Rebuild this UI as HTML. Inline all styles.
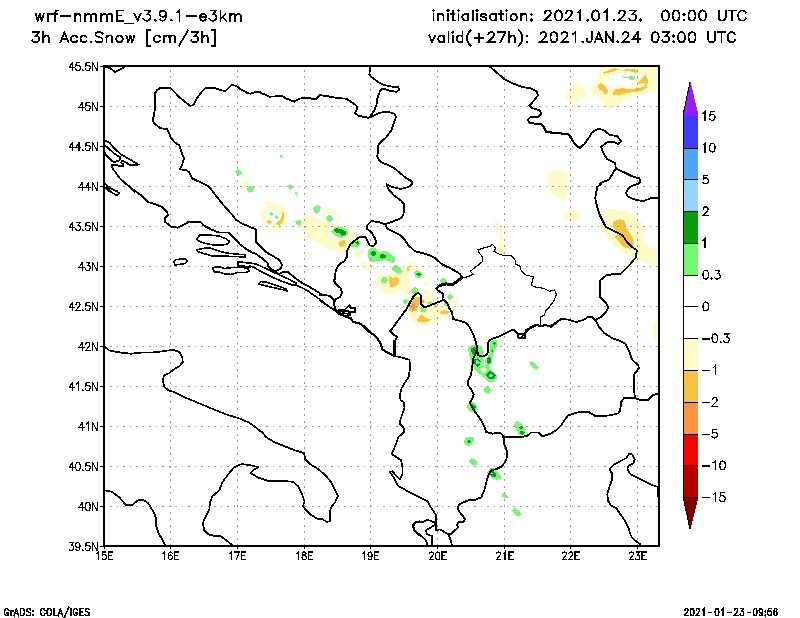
<!DOCTYPE html><html><head><meta charset="utf-8"><title>wrf-nmmE snow</title>
<style>html,body{margin:0;padding:0;background:#fff}svg{display:block}text{font-family:"Liberation Sans",sans-serif;fill:#000}</style></head><body>
<svg width="800" height="618" viewBox="0 0 800 618">
<rect width="800" height="618" fill="#fff"/>
<defs><clipPath id="cp"><rect x="104" y="66" width="555" height="480"/></clipPath></defs>
<g clip-path="url(#cp)" shape-rendering="crispEdges">
<polygon fill="#FFFAC8" points="566.2,92.5 568.8,86.9 576.2,83.1 582.5,86.2 586.2,90 585,96.2 580,100.6 573.8,103.1 567.5,101.2 566,97.5"/>
<polygon fill="#FFFAC8" points="600,66.9 658.8,66.9 658.8,88.1 652.5,91.2 645,93.1 635,95 626.2,98.8 618.8,105 612.5,108.1 606.2,108.8 603.1,102.5 595,95 589.4,90 593.8,85 597.5,78.8 598.1,72.5"/>
<polygon fill="#FFFFFF" points="605,79.4 610,76.2 618.8,73.1 627.5,71.9 637.5,72.5 641.2,74.4 640,78.8 635,81.2 631.2,85 627.5,87.5 622.5,85 615,86.9 610,88.1 606.2,85 603.8,82.5"/>
<polygon fill="#F5C341" points="603.1,72.5 607.5,70.6 615,68.1 618.8,69.4 615,71.2 608.8,72.5 604.4,73.8"/>
<polygon fill="#F5C341" points="621.9,70 627.5,69 635,69.4 638.1,71.2 636.2,73.1 630,71.2 623.8,71"/>
<polygon fill="#F5C341" points="638.1,81.9 642.5,78.1 645.6,75 647.5,78.8 647.5,84.4 646.2,88.8 640,91.2 632.5,91.9 625,93.8 617.5,95 612.5,94.4 615,89.4 622.5,88.1 630,89.4 637.5,88.1 643.8,86.9 645.6,83.1 642.5,83.1 638.8,84.4"/>
<polygon fill="#F5C341" points="598.1,85.6 600.6,83.1 603.8,85 608.1,90.6 606.9,94.4 604.4,93.8 602.5,90.6 598.8,89.4"/>
<polygon fill="#78F573" points="621.2,75 622.5,76.9 627.5,76.9 631.2,75.6 635,77.5 633.1,80.6 630.6,80 628.1,78.1 623.8,77.5"/>
<polygon fill="#FFFAC8" points="546.8,175 550.5,170.5 559.5,169.8 567,172 568.2,179.5 567.8,188.5 567,196 562.5,199.8 556.5,196.8 552,192.2 548.2,185.5 546.8,179.5"/>
<polygon fill="#FFFAC8" points="563.2,216.2 567,211.8 572.2,208.8 578.2,211.8 582.8,215.5 581.2,219.2 576,221.5 570,221.5 565.5,219.2"/>
<polygon fill="#FFFAC8" points="599.1,224.1 603.6,213 607.6,208.5 615.1,209 627.2,210.5 636.2,215 640.2,220.1 643.2,226.1 642.7,233.1 644.2,240.1 648.2,246.1 654.2,249.2 658.8,250.2 658.8,264.7 650.2,264.2 642.2,261.2 637.2,258.2 630.2,255.7 623.1,252.2 617.1,249.7 613.1,244.1 608.1,238.1 603.1,231.1 600.1,227.1"/>
<polygon fill="#F5C341" points="613.6,221.6 620.1,219.1 625.1,221.1 626.1,227.1 629.2,232.1 632.2,237.1 633.7,242.1 633.2,248.2 629.2,248.7 624.1,247.2 620.1,243.1 617.1,240.1 614.6,237.6 615.6,235.6 620.1,235.1 617.1,232.1 614.6,229.1 613.1,226.1"/>
<polygon fill="#FFFAC8" points="652.8,324.1 658.4,321 658.4,341.1 654.8,340.1 652.4,332.1"/>
<polygon fill="#FFFAC8" points="494.3,220.1 497.3,221.1 500.3,227.1 502.3,234.2 504.3,242.2 506.3,248.2 505.3,253.2 501.3,254.2 496.3,250.2 498.3,244.2 500.3,240.2 498.3,234.2 495.9,227.1"/>
<polygon fill="#FFFAC8" points="484.3,232.2 488.3,233.2 486.3,234.6"/>
<polygon fill="#FFFAC8" points="241.9,183.8 247.5,179 250,180.6 246.2,186.2 243.8,187.5"/>
<polygon fill="#FFFAC8" points="241.2,175 245,174.4 245.6,176.2 242.5,176.9"/>
<polygon fill="#FFFAC8" points="233.1,183.1 235,181.9 235,185"/>
<polygon fill="#FFFAC8" points="253.8,194.4 255.6,193.8 255.6,195.6"/>
<polygon fill="#FFFAC8" points="296.2,185.6 298.1,185 298.8,187.5 296.9,187.5"/>
<polygon fill="#FFFAC8" points="300,196.9 301.2,196.9 301.2,198.8 300,198.8"/>
<polygon fill="#78F573" points="279.4,155.6 281.9,155 283.1,156.9 281.2,157.8"/>
<polygon fill="#78F573" points="235,171.9 238.1,169 241.9,171.9 241.2,175 238.1,175.6"/>
<polygon fill="#78F573" points="246.2,190 250,185.6 253.8,187.5 252.5,191.9 248.8,192.8"/>
<polygon fill="#78F573" points="287.2,186.2 290.6,184 293.5,186.5 290.6,189.8"/>
<polygon fill="#78F573" points="295,192.2 296.9,192.2 296.9,194.8 295.6,194.4"/>
<polygon fill="#FFFAC8" points="259.4,214.4 263.8,212.5 266.2,206.2 262.5,202.5 271.2,201.9 278.8,204.4 285,208.8 288.1,214.4 287.5,221.2 283.8,227.5 278.8,229.4 273.8,226.2 266.2,224.4 261.9,220"/>
<polygon fill="#FFFFFF" points="265,214.4 268.8,210.6 275,210 280,212.5 280.6,217.5 276.9,221.9 271.2,221.9 266.9,219.4"/>
<polygon fill="#78F573" points="268.8,213.8 271.2,211.9 273.8,214.4 271.2,216"/>
<polygon fill="#78F573" points="274.4,216.9 276.9,215 279,217.5 276.5,218.8"/>
<polygon fill="#F5C341" points="266.9,221.2 269.4,219.8 272.2,221.9 270,223.8 267.5,222.8"/>
<polygon fill="#F5C341" points="276.2,223.1 280,220 281.9,215.6 281.5,211.2 283.5,213.1 284.4,218.1 282.5,222.5 279.4,224.8 276.5,224.4"/>
<polygon fill="#FFFAC8" points="302.5,216.9 310,215 316.2,218.1 322.5,220 323.8,212.5 327.5,208.1 332.5,210 337.5,215 341.9,214.4 340,218.8 337.5,223.1 342.5,226.2 347.5,226.9 350,230 353.1,227.5 356.2,232.5 355,240 353.8,247.5 350,252.5 343.8,253.8 337.5,251.2 330,249.4 322.5,245 315,241.2 308.8,238.8 305,232.5 301.2,227.5"/>
<polygon fill="#FFFFFF" points="324.4,216.9 326.9,213.1 331.2,212.5 336.2,216.2 337.5,220 335,222.8 330,223.8 325.6,221.2"/>
<polygon fill="#FFFFFF" points="328.8,232.5 332.5,227.5 337.5,225.6 345,227.5 348.8,231.2 348.8,236.2 343.8,239.4 337.5,239.4 332.5,237.5 329.4,235.6"/>
<polygon fill="#FFFFFF" points="316.9,235 318.5,233.8 320,235.2 318.5,236.9"/>
<polygon fill="#78F573" points="326,218.1 328.1,215 331.9,216.2 333.1,219.4 330.6,221.9 327.2,221.2"/>
<polygon fill="#78F573" points="331.2,231.2 334.4,227.5 341.2,226.9 346.9,229.4 348.1,233.1 345,236.9 340,237.8 335,235.6"/>
<polygon fill="#78F573" points="295,221.2 300.6,220 301.2,225 296.9,224.8"/>
<polygon fill="#78F573" points="313.1,207.5 317.5,205 321,206.9 319.4,211.2 316.2,214.4 313.8,211.2"/>
<polygon fill="#78F573" points="295,191.9 296.9,191.9 296.9,195 295.6,194.4"/>
<polygon fill="#0F9B0F" points="333.8,230 336.2,228.1 340,228.8 343.1,229.8 346.2,231.9 345.6,235 342.5,235.6 339.4,233.1 336.2,232.5"/>
<polygon fill="#F5C341" points="338.1,243.1 342.5,240.6 345.2,240 343.8,245 341.9,247.8 339.4,245.6"/>
<polygon fill="#FFFAC8" points="355,253.1 358.8,248.8 363.1,251.9 361.2,256.2 357.5,258.8 355,257.5"/>
<polygon fill="#FFFAC8" points="360.6,267.5 363.8,260 366.9,262.5 371.9,265 375,267.5 372.5,270 365,269.4"/>
<polygon fill="#FFFAC8" points="377.5,248.1 380,246.2 382.2,248.1 380.6,250"/>
<polygon fill="#FFFAC8" points="378.8,270 381.2,268.1 384.4,270 382.5,272.8 379.8,272.2"/>
<polygon fill="#FFFAC8" points="374.4,278.8 380,275 388.8,274.4 398.8,275 403.8,271.2 406.2,265 411.2,261.9 417.5,263.8 421.2,268.1 426.2,275 430,281.2 427.5,286.2 422.5,285 420,290 426.2,292.5 432.5,295 430,300 422.5,300 420,295 410,295 406.2,288.8 400,290 393.8,293.8 387.5,293.8 381.2,291.2 376.2,286.2"/>
<polygon fill="#FFFFFF" points="407.5,275 412.5,272.5 416.2,280 415,286.2 410,285 408.1,280"/>
<polygon fill="#78F573" points="349.4,243.8 353.1,240 358.1,239.4 360.6,242.5 358.8,246.2 353.8,247.5 350.6,246.2"/>
<polygon fill="#78F573" points="368.1,250 371.9,247.5 376.2,248.1 378.1,251.9 381.2,251.9 385,250.6 390,253.1 394.4,257.5 395.6,261.9 393.1,263.1 388.8,261.2 385,259.4 381.2,261.2 377.5,260.6 373.8,261.9 370,262.5 368.5,257.5"/>
<polygon fill="#78F573" points="391.2,268.8 394.4,265 397.5,265.6 400.6,268.8 403.1,271.2 401.2,273.8 397.5,273.1 393.8,271"/>
<polygon fill="#78F573" points="413.8,273.1 416.2,270.2 420,271 423.1,273.8 421.9,277.2 418.1,278.8 415,276.9"/>
<polygon fill="#78F573" points="380.2,280 383.1,277.2 386.9,277.5 388.1,280.6 385.6,283.5 382.2,282.8"/>
<polygon fill="#78F573" points="410,291.2 413.8,287.5 417.5,288.1 418.1,291.2 415,293.8 411.9,293.8"/>
<polygon fill="#78F573" points="403.1,300.6 406.2,299.4 408.1,302 403.1,302"/>
<polygon fill="#0F9B0F" points="355,242.5 357.5,241.2 359.4,243.1 356.9,245"/>
<polygon fill="#0F9B0F" points="370.6,253.1 373.1,250.6 376.2,251.9 376.2,255 373.1,256.2 371,255"/>
<polygon fill="#0F9B0F" points="379.8,255.6 382.5,253.8 385.6,255 385.6,257.5 382.5,258.8 380.2,257.8"/>
<polygon fill="#0F9B0F" points="416.5,273.8 418.8,272.5 421,274.4 419,276.2"/>
<polygon fill="#F5C341" points="388.8,276.2 391.9,276.2 392.5,280 395,280.6 396.9,277.5 400,280 398.8,283.1 395,285 391.2,287.5 389.4,283.8"/>
<polygon fill="#F5C341" points="340,241.2 343.1,240 345,242.5 343.8,246.2 340,247.5"/>
<polygon fill="#F5C341" points="407.5,267.5 408.8,267.2 408.8,270 407.9,270"/>
<polygon fill="#FFFAC8" points="402.5,273.8 405,266.2 412.5,261.9 418.8,265 421.2,270 426.2,275 428.8,281.2 427.5,286.9 431.2,292.5 433.1,296.2 430,298.8 436.2,301.2 442.5,305 448.8,308.8 451.2,312.5 448.8,316.2 442.5,316.2 438.8,320 432.5,323.8 425,325 416.2,324.4 411.2,318.8 406.2,313.8 402.5,306.2 406.2,301.2 408.8,295 402.5,288.8 395,293.1 390,293.8 390,273.8 397.5,272.5"/>
<polygon fill="#FFFAC8" points="452.5,301.2 457.5,296.9 460,298.8 458.1,303.1 453.8,307.5 451.2,305"/>
<polygon fill="#FFFFFF" points="408.8,275 413.1,271.2 413.8,278.8 418.8,281.2 422.5,280 423.8,285 420,286.9 415,285 410,283.8"/>
<polygon fill="#FFFFFF" points="423.1,291.2 427.5,290 430,293.8 427.5,297.5 423.8,297.5 421.9,294.4"/>
<polygon fill="#FFFFFF" points="410.1,271.1 414.1,270.1 422.1,269.1 428.2,273.1 432.2,280.1 434.2,288.1 432.2,290.1 424.1,289.6 420.1,291.1 418.1,288.1 414.1,287.1 410.1,290.1 409.1,283.1 410.1,276.1"/>
<polygon fill="#FFFAC8" points="421.1,275.6 425.1,274.6 427.2,276.6 424.1,279.1 421.1,278.6"/>
<polygon fill="#FFFAC8" points="423.1,283.1 427.2,281.1 429.2,283.1 427.2,286.6 424.1,286.1"/>
<polygon fill="#FFFAC8" points="419.6,292.1 423.1,289.6 429.2,290.1 432.7,294.1 431.2,298.2 427.2,299.2 422.1,297.2"/>
<polygon fill="#FFFFFF" points="423.1,293.1 427.2,292.1 429.7,294.6 427.2,296.7 424.1,295.6"/>
<polygon fill="#F5C341" points="390,276.2 393.8,278.8 396.2,276.9 399.4,278.8 399.4,283.1 395,286.2 390,287.5"/>
<polygon fill="#F5C341" points="408.1,310 410.6,304.4 413.1,299.4 415.6,296.9 420,297.5 420,302.5 418.1,306.9 416.2,310.6 411.9,311.9"/>
<polygon fill="#F5C341" points="416.9,320 419.4,316.2 421.9,314.4 425,317.5 431.2,319.4 427.5,321.9 422.5,322.5 418.1,321.9"/>
<polygon fill="#F5C341" points="440,311.9 443.8,310 448.8,311 450,313.1 445,314 441.2,313.8"/>
<polygon fill="#F5C341" points="406.9,267.5 408.8,266.9 408.8,270.6 407.5,270.6"/>
<polygon fill="#FA9641" points="410.6,308.8 411.9,304.4 415,303.1 415.6,306.9 413.8,310"/>
<polygon fill="#FA9641" points="421.2,300.6 423.8,299.4 425,301.9 422.8,303.5"/>
<polygon fill="#78F573" points="391.2,268.1 395,265.2 400,267.5 402.5,271.2 399.4,273.5 395,271.9"/>
<polygon fill="#78F573" points="413.8,272.5 416.9,270.2 421.2,271.9 422.8,275 420,278.5 415.6,276.9"/>
<polygon fill="#78F573" points="439.4,280.6 443.1,278.1 446.9,280 446.2,282.8 441.2,283.1"/>
<polygon fill="#78F573" points="410,291.2 414.4,286.9 418.1,288.8 416.9,292.5 413.1,293.8"/>
<polygon fill="#78F573" points="403.1,300.6 406.2,299 408.1,301.9 405.6,304 403.1,303.1"/>
<polygon fill="#78F573" points="446.9,296.2 450,294 453.1,296.2 452.2,299.4 448.8,299.8"/>
<polygon fill="#78F573" points="420,307.5 423.8,308.1 426.9,310 425,312.5 421.2,311.9"/>
<polygon fill="#78F573" points="426.9,302.5 431.2,301.2 433.1,303.8 428.8,304.8"/>
<polygon fill="#78F573" points="443.8,302.5 447.5,301.2 450,304.4 448.1,307.5 445,306.2"/>
<polygon fill="#78F573" points="432.5,306.2 435.6,304.4 436.9,306.2 433.8,307.8"/>
<polygon fill="#78F573" points="390,260 394.4,260 395.6,261.9 392.5,263.1 390,261.9"/>
<polygon fill="#0F9B0F" points="416,274.4 418.8,272.5 421,274.4 419,276.5"/>
<polygon fill="#78F573" points="468.1,348.8 471.9,345 476.9,344.4 481.2,346.9 483.8,351.9 482.5,356.2 484.4,361.2 481.9,365 479.4,368.8 483.8,373.1 487.5,370 490,368.8 493.8,371.9 497.5,375.6 496.9,378.8 493.1,381.9 488.8,382.2 485,378.8 481.9,375 478.1,373.1 474.4,368.8 471.2,363.8 470,357.5 468.8,353.1"/>
<polygon fill="#78F573" points="485,361.2 487.5,356.9 489.4,353.1 490,348.8 490.6,341.2 493.8,339.4 497.2,340.6 497.2,346.2 495,350 493.1,354.4 492.5,358.8 491.9,363.1 488.8,365 486.2,364.4"/>
<polygon fill="#78F573" points="529.4,362.5 531.2,361.2 535,363.1 538.1,366.2 539,368.1 536.2,369.4 532.5,367.5 530,365"/>
<polygon fill="#78F573" points="483.5,388.8 486.2,386.2 489.4,387.5 491,390.6 489.4,393.1 485.6,393.5 483.8,391.2"/>
<polygon fill="#78F573" points="481.9,365 486.2,364.4 488.8,365 490.2,368.8 487.5,370 483.8,373.1 479.4,368.8"/>
<polygon fill="#FFFFFF" points="480,369.4 483.8,366.2 487.5,369.4 483.8,373.1"/>
<polygon fill="#0F9B0F" points="471.2,348.1 475,346.9 476.9,349.4 475,354.4 473.1,355 471.2,351.9"/>
<polygon fill="#0F9B0F" points="474.4,359.4 478.1,358.1 480.6,361.2 480,365 476.9,366.9 474.4,364.4"/>
<polygon fill="#0F9B0F" points="485.6,375 489.4,371.2 493.1,372.2 496,375.6 493.1,379.4 489.4,378.8"/>
<polygon fill="#0F9B0F" points="486.9,358.8 488.8,356.9 491,358.1 491,362.5 488.5,363.8 486.9,361.9"/>
<polygon fill="#0F9B0F" points="493.1,343.1 494.8,341.9 496,343.5 494.4,345"/>
<polygon fill="#0F9B0F" points="491.2,350.6 492.5,349.8 493.1,351.2 491.9,351.9"/>
<polygon fill="#96D2FA" points="475.6,360.6 478.1,360 479.8,362.2 478.1,364.4 476,363.5"/>
<polygon fill="#96D2FA" points="489,375 491.2,374 493.1,375.6 491.5,377.2 489.4,376.9"/>
<polygon fill="#FFFAC8" points="491.9,365 493.5,364.8 493.8,366.2 492.2,366.5"/>
<polygon fill="#78F573" points="466.9,405.6 468.8,402.5 471.9,401.2 476.2,403.8 477.8,407.5 475.6,411.2 471.2,412.5 468.1,410"/>
<polygon fill="#78F573" points="514,424.4 516.2,421.2 519.4,421.9 522.5,425 524.8,428.8 525.6,433.1 523.1,435.6 518.8,435 517.5,431.2 515,427.5"/>
<polygon fill="#78F573" points="463.8,440.6 466.2,437.5 473.8,437.2 473.5,440.6 471.2,444.4 467.5,446 465,444.4"/>
<polygon fill="#78F573" points="469,460 471.9,458.1 475.6,460 477.8,462.5 476.9,465.2 473.1,465.2 470,463.1"/>
<polygon fill="#0F9B0F" points="470,405 472.5,404.4 476.2,406.9 475,409.4 471.9,408.1"/>
<polygon fill="#0F9B0F" points="518.8,426.9 521.2,426 523.1,428.1 520.6,429.4"/>
<polygon fill="#0F9B0F" points="519.4,431.9 522.2,430.6 524.8,432.5 522.5,434.8 519.8,433.8"/>
<polygon fill="#0F9B0F" points="466.9,441.2 469.4,440 471,441.5 469,443.5"/>
<polygon fill="#78F573" points="487.5,472.5 490,468.1 493.1,467.5 496.9,471.2 501.2,475.6 501.5,478.1 496.9,480 492.5,478.1 489.4,475.6"/>
<polygon fill="#78F573" points="501.2,495 503.8,493.1 506.9,495 508.8,497.5 506.2,498.5 503.1,497.2"/>
<polygon fill="#78F573" points="512.1,510 514.4,507.5 518.1,510 521,513.1 520.2,516 516.9,516.2 513.8,513.1"/>
<polygon fill="#0F9B0F" points="490.2,472.5 493.1,470.6 496.2,473.1 496.5,476.2 493.1,477.5 490.6,475.6"/>
<polygon fill="#96D2FA" points="491.2,473.1 492.8,473.1 492.8,474.4 491.2,474.4"/>
</g>
<g stroke="#9a9a9a" stroke-width="1" stroke-dasharray="1.7 4.8" fill="none" shape-rendering="crispEdges">
<line x1="103.5" y1="106.5" x2="658" y2="106.5"/>
<line x1="103.5" y1="146.5" x2="658" y2="146.5"/>
<line x1="103.5" y1="186.5" x2="658" y2="186.5"/>
<line x1="103.5" y1="226.5" x2="658" y2="226.5"/>
<line x1="103.5" y1="266.5" x2="658" y2="266.5"/>
<line x1="103.5" y1="306.5" x2="658" y2="306.5"/>
<line x1="103.5" y1="346.5" x2="658" y2="346.5"/>
<line x1="103.5" y1="386.5" x2="658" y2="386.5"/>
<line x1="103.5" y1="426.5" x2="658" y2="426.5"/>
<line x1="103.5" y1="466.5" x2="658" y2="466.5"/>
<line x1="103.5" y1="506.5" x2="658" y2="506.5"/>
<line x1="170.5" y1="546" x2="170.5" y2="66"/>
<line x1="237.5" y1="546" x2="237.5" y2="66"/>
<line x1="304.5" y1="546" x2="304.5" y2="66"/>
<line x1="370.5" y1="546" x2="370.5" y2="66"/>
<line x1="437.5" y1="546" x2="437.5" y2="66"/>
<line x1="504.5" y1="546" x2="504.5" y2="66"/>
<line x1="570.5" y1="546" x2="570.5" y2="66"/>
<line x1="637.5" y1="546" x2="637.5" y2="66"/>
</g>
<g clip-path="url(#cp)" fill="none" stroke="#000" stroke-linejoin="round" stroke-linecap="round" shape-rendering="crispEdges">
<polyline stroke-width="1.85" points="259.9,92.1 256.5,91.7 250.5,93.7 247.5,93.1 240.5,89.1 236.4,86.1 231.8,84.7 225.4,91.1 222.4,90.5 216.4,88.5 206.3,87.5 202.3,91.1 196.3,99.1 193.3,105.1 190.3,105.7 185.3,102.1 180.3,98.1 171.2,88.7 169.2,87.7 160.2,88.1 157.2,90.1 155.2,93.1 155.2,106.1 154.2,114.2 152.8,120.2 154.2,123.2 160.2,128.2 167.2,129.2 169.2,133.2 171.2,138.3 175.2,142.7 179.3,145.3 181.3,151.3 183.9,158.3 182.3,164.3 179.9,169.4 186.3,170 189.3,172.4 192.3,178.4 198.3,181.4 204.3,184"/>
<polyline stroke-width="1.85" points="104.4,67 110,68 115,72 120.1,69.6 123.7,67.6"/>
<polyline stroke-width="1.75" points="104,140.5 109.5,142.5 114,148.1 121.1,154.6 130.1,159.6 138.6,164.6 130.1,165.1 123.6,161.1 121.6,160.6 121.3,163.1 123.6,164.6 123.1,166.3 119.6,166.1 115,164.6 112,165.1 112,167.6 116.1,173.1 120.1,178.7 126.1,183.7 134.6,191.7"/>
<polyline stroke-width="1.75" points="104,145 107,147.1 113,152.6 120.6,157.6 119.6,160.1 115,162.1 112,161.1 106,155.1 104.5,152.1 104,149.1"/>
<polyline stroke-width="1.75" points="104,182.2 107.5,186.2 112,189.2 117.1,191.2"/>
<polyline stroke-width="1.75" points="106,188.2 110,191.7"/>
<polyline stroke-width="1.85" points="260,92.7 264,94.1 269,96.7 282.1,96.1 286.1,98.5 294.1,101.7 300.1,98.5 308.2,97.7 315.2,99.5 320.2,95.1 329.2,96.5 337.2,98.1 346.3,98.7 354.3,104.1 357.3,106.6 356.3,111.2 354.7,112.6 358.3,115.8 368.3,117.8 372.4,116.2 380.4,112.6 388.4,111.8 394.4,113.8 396,117.2 393.4,124.2 391.4,130.2 386.4,137.2 380.4,142.3 378.4,145.3 378.4,151.3 377,156.3 380.4,161.9 388.4,165.3 394.4,168.3 400.5,173.4 406.5,178.4 412.1,181.4 412.5,184"/>
<polyline stroke-width="1.85" points="370.4,116.2 374.4,110.2 377.4,102.1 377.4,98.1 380.4,90.1 383.4,88.5 390.4,91.1 396.4,91.7 399,90.1 398.4,87.1 392.4,86.7 384.4,85.1 378.4,82.1 371.4,77.1 369.4,74.4 370,67"/>
<polyline stroke-width="1.85" points="490.2,67 497.2,73 504.3,79.1 512.3,83.1 522.3,87.1 530.4,88.1 536.4,91.1 538,95.1 534.4,100.1 529.4,105.7 532.4,108.2 539.4,110.2 541.4,113.8 538.4,116.6 530.4,117.2 527.9,119.8 529.4,122.6 535.4,123.8 541.4,124.2 544.4,128.2 546.4,132.2 556.4,132.6 564.5,133.8 569.5,134.6 572.5,140.3 575.5,145.3 579.9,147.9"/>
<polyline stroke-width="1.85" points="540,123.8 544,127.2 546,132.2 556.1,133.2 568.1,134.2 571.1,138.3 575.1,144.3 580.1,147.9 584.1,144.3 589.2,137.2 592.2,132.2 598.2,128.8 603.2,129.8 609.2,134.6 617.2,136.2 621.3,141.3 618.3,143.9 613.2,141.9 607.2,142.3 601.2,146.7 603.2,152.7 607.2,159.3 615.2,163.3 615.8,168.3"/>
<polyline stroke-width="1.85" points="615.8,168.3 624.3,172.4 632.3,176.4 639.3,178.4 640.3,181.4 638.3,184"/>
<polyline stroke-width="1.85" points="615.8,168.3 612.2,174.4 609.2,179.4 600.2,183.4"/>
<polyline stroke-width="1.85" points="126.1,184 135.1,191 142.1,196 148.2,202.1 155.2,204.1 162.2,207.1 167.2,212.1 167.8,215.1 164.6,218.1 165.2,222.1 171.2,226.5 177.2,227.7 183.3,225.1 188.3,222.1 200.3,221.7"/>
<polyline stroke-width="1.85" points="204.3,184 209.4,187 215.4,195 224.4,206.1 233.4,216.1 236,219.9"/>
<polyline stroke-width="1.6" points="107,186 112,189 119.1,193 117.1,195.6 111,192 107.6,188 107,186"/>
<polyline stroke-width="1.85" points="200.6,221.9 203.8,225.6 211.2,229.4 218.8,232.5 228.1,232.5 233.8,237.5 240,244.4 247.5,250 250,251.2"/>
<polyline stroke-width="1.85" points="236.2,220 242.5,223.8 250,226.9 255.6,229.4 256.2,236.2"/>
<polyline stroke-width="1.6" points="196.9,239.4 199.4,235.2 207.5,234.8 218.8,236 226.2,238.8 229.4,241.2 228.1,243.8 222.5,245 212.5,244.8 203.8,243.1 198.8,241 196.9,239.4"/>
<polyline stroke-width="1.6" points="196.5,250 202.5,248.5 209.4,247.8 216.2,250 225,252.8 235,254 245.6,254.8 245,257.2 236.2,256.5 225,256.2 212.5,256 203.8,253.5 198.8,251.9 196.5,250"/>
<polyline stroke-width="1.6" points="173.8,261.9 175.6,259.8 181.9,258.8 186.2,259.4 187.5,261 185,263.5 179.4,264.4 175,265 173.8,261.9"/>
<polyline stroke-width="1.6" points="212.5,267.5 220,266.9 225,268.5 232.5,267.5 240,267.2 247.5,268.1 249.4,271.2 245,272.5 237.5,272.5 231.2,274.4 225,274 220,272.2 214.4,271.9 212.5,267.5"/>
<polyline stroke-width="1.6" points="250,263.1 241.9,262.2 238.1,261.9 237.5,265 242.5,266 250,266.9"/>
<polyline stroke-width="1.85" points="386.4,184 388.4,189 393.4,195 400.5,200.1 404.1,204.1 403.5,214.1 401.5,218.1 392.4,221.7 385.4,224.1 378.4,222.1 371.4,221.1 367.3,225.1 367.3,229.1 371.4,232.2 374.4,237.2 376.4,242.2 373.4,246.2 369.4,245.2 367.3,240.2 365.3,237.2 360.3,236.6 355.3,240.2 350.3,244.2 347.3,250.2 346.7,257.2 344.3,261.2 339.3,264.3 336.2,269.3 334.6,276.3 334.6,279.9"/>
<polyline stroke-width="1.85" points="386.4,184 392.4,187 400.5,189 408.5,187 412.5,184"/>
<polyline stroke-width="1.85" points="256.2,236.6 256.2,242.2 261.2,247.2 266.2,252.2 273.8,256.6 280,260.4 281.9,264.8 281.2,268.2 276.9,270.4 275,271.6"/>
<polyline stroke-width="1.85" points="250,251.6 256.2,254.1 262.5,258.5 267.5,262.9 268.1,266 271.2,269.1 275,271.6 279.4,274.1 282.5,272.2 287.5,271.6 291.2,274.8 297.5,279.8 303.8,284.1 310,287.2 316.2,291 322.5,294.8 330,295.8 333.8,299.8 334.8,301"/>
<polyline stroke-width="1.6" points="250,262.9 256.2,264.1 262.5,267 268.8,269.8 275,272.9 281.2,275.8 287.5,278.5 296.2,283.2 296.5,285.4"/>
<polyline stroke-width="1.6" points="250,266 255,267.9 260,271 266.2,274.1 272.5,277.2 278.8,280 286.2,282.9 292.5,285 296.5,285.4"/>
<polyline stroke-width="1.6" points="296.5,285.4 302.5,287.9 308.8,291.6 315,296 321.2,300.4 327.5,305.4 332.5,309.1 337.5,311.6"/>
<polyline stroke-width="1.6" points="258.5,283.8 260.6,281.6 266.2,282 272.5,284.1 280,286.6 286.2,289.1 287.2,291 283.8,289.8 277.5,288.5 271.2,287.2 263.8,285.4 258.5,283.8"/>
<polyline stroke-width="1.85" points="333.8,280 335.6,283.8 340.6,288.1 342.2,292.5 340,296.9 334.4,300"/>
<polyline stroke-width="1.85" points="320,295 329.4,295.6 334.4,300 334,305 335.6,309.4 338.8,312.5"/>
<polyline stroke-width="1.85" points="413.1,296.9 410,303.1 406.2,309.4 401.2,316.2 396.2,323.1 392.5,328.1 390,331.2 392.5,333.8 396.9,336.9 395,341.2 394,346.2 393.8,351.2 394.4,355"/>
<polyline stroke-width="3" points="394,341.2 394.2,355"/>
<polyline stroke-width="1.75" points="320,300.6 325,303.8 331.2,308.1 336.2,311.2 338.8,313.8"/>
<polyline stroke-width="1.75" points="338.8,310 345,309.4 349.4,305 350.6,308.1 355,308.1 355.6,311.9 350.6,311.9 350,315 345,316.2 341.9,313.8 338.8,312.5 338.8,310"/>
<polyline stroke-width="1.75" points="340,311.2 348.8,311.2 348.8,313.8 342.5,313.1"/>
<polyline stroke-width="1.85" points="435.1,258.2 442.1,264.3 450.2,268.3 457.2,271.9 460,274.1 462,277.9"/>
<polyline stroke-width="1.85" points="443.1,299.4 447.2,303.4 449.2,308"/>
<polyline stroke-width="3" points="462,277.9 456.2,281.9 452.2,284.7 446.1,283.9 440.1,285.3"/>
<polyline stroke-width="1.85" points="440.1,285.3 436.1,288.7 439.1,291.3 443.1,293.4 442.5,299.4"/>
<polyline stroke-width="1.85" points="443.1,300 437.5,302.5 431.2,305 424.4,307.5 421.2,304.4 420.6,298.8 420.6,295 418.1,292.8 415,295 411.9,299.4 408.8,304.4"/>
<polyline stroke-width="1.15" points="462,277.9 468.2,276.7 473.2,274.3 470.2,271.3 475.2,267.3 479.3,264.3 482.7,261.2 481.9,256.2 479.3,253.2 477.9,249.8 484.3,247.8 490.3,246.2 492.3,244.2 495.9,248.2 493.9,251.2 498.3,253.8 504.3,255.8 510.4,255.2 514.8,259.2 516,264.3 520,266.3 521.4,271.3 526.4,275.3 533.4,276.7 531.4,285.3 536.4,287.3 543.5,288.3 549.5,291.3 554.5,289.9 556.5,294.4 554.1,300.4 550.5,305.4 548.5,308"/>
<polyline stroke-width="1.85" points="601.3,184 597.2,187 595.2,198 597.2,207.1 600.3,216.1 604.3,224.1 606.3,227.1 614.3,231.2 622.3,235.2 627.3,242.2 632.4,247.2 636.8,250.2 636,257.2 629.4,265.3 620.3,274.3 612.3,274.3 606.3,275.3 600.3,280.3 599.9,288.3 600.3,297.4 606.3,303.4 608.3,308"/>
<polyline stroke-width="1.85" points="637.4,184 629.4,187 625.9,193 628.3,197 636.4,200.1 643.4,201.1 650.4,198.4 658.4,197.6"/>
<polyline stroke-width="1.75" points="104,346.1 109,350.5 120.1,352.5 131.1,353.7 142.1,352.5 152.2,352.5 164.2,351.1 173.2,349.7 179.3,352.1 182.3,357.2 182.7,362.2 179.3,366.2 174.2,369.2 169.2,373.2 164.2,375.2 162.6,380.2 164.6,387.3 169.2,390.7 174.2,391.9 182.3,396.3 194.3,401.3 206.3,406.3 218.4,411.3 228.4,415.3 238.4,418 248.5,422.4 254.5,426.4 259.9,430.8"/>
<polyline stroke-width="1.75" points="104,490.2 112,491.8 119.1,497.2 126.1,505.2 132.1,505.2 138.1,500.2 143.1,499.8 148.2,503.2 153.2,511.3 156.2,518.3 156.2,526.3 158.6,533.3 162.2,539.3 165.2,545.4"/>
<polyline stroke-width="1.75" points="259.9,478.6 250.5,473.1 254.5,469.1 258.5,467.1 249.5,465.1 241.5,464.1 234.4,467.1 228.4,474.1 222.4,482.2 219.4,490.2 212.4,496.2 210,502.2 209.4,509.2 205.3,517.3 202.7,523.3 204.3,530.3 208.3,534.3 214.4,535.9 220.4,535.9 226.4,540.3 232.4,545.4"/>
<polyline stroke-width="1.75" points="386.4,352.1 393.4,355.8 400.5,357.2 409.5,359.8 410.1,368.2 408.5,377.2 404.5,383.2 401.5,388.3 400.1,394.3 400.5,400.3 404.1,402.3 404.5,408.3 401.5,416.3 399.4,423.4 403.5,427.4 404.5,432"/>
<polyline stroke-width="1.75" points="260,430.8 262,432 266,437 274,442 284.1,446 294.1,450.1 304.1,453.1 305.1,459.1 310.2,464.1 318.2,469.1 325.2,475.1 331.2,482.2 335.2,490.2 337.9,496.2 335.2,502.2 331.2,507.2 329.8,512.3 329.8,521.3 327.2,521.9 322.2,519.3 317.2,518.7 310.2,514.3 305.1,509.2 303.1,506.2 304.5,501.2 302.1,494.2 298.1,486.2 293.1,481.8 286.1,481.2 278.1,481.2 269,481.2 260,478.1"/>
<polyline stroke-width="1.75" points="404.5,432 401.5,434.4 398.4,437 396.4,443 393.4,450.1 391.4,453.7 396.4,457.1 400.9,460.1 402.5,467.1 402.5,474.1 400.1,479.2 396.4,476.1 392.4,471.1 390,472.1 393.4,477.1 398.4,486.2"/>
<polyline stroke-width="1.75" points="419.9,521.3 415.5,522.3 413.5,526.3 414.9,531.3 419.9,534.7"/>
<polyline stroke-width="1.85" points="449.2,308 451.8,312 453.2,319 460.2,321 466.2,323 470.2,328.1 473.2,334.1 475.2,340.1 477.2,347.1 475.8,353.1 473.2,359.2 472.2,366.2 471.2,374.2 468.2,380.2 467.8,385.2 471.2,389.3 473.8,394.3 472.2,399.3 469.8,402.3 472.2,407.3 475.2,412.3 479.3,417.4 483.3,424.4 486.3,432"/>
<polyline stroke-width="1.85" points="477.2,348.1 477.9,355.2 482.3,356.6 486.3,355.2 488.3,351.1 487.9,344.1 489.3,340.1 494.3,338.1 502.3,335.1 509.4,331.1 514,329.7 518.4,334.3 518.4,338.1 524.8,338.1 524.8,334.3 527.4,330.5 530.4,328.1 536.4,325.1 540.5,326.1 544.5,325.1 550.5,326.1 556.5,322 559.9,320"/>
<polyline stroke-width="1.85" points="518.4,334.3 524.8,334.3"/>
<polyline stroke-width="1.15" points="548.5,308 545.5,311 544.5,315 540.5,317 540.5,322 540.5,326.1"/>
<polyline stroke-width="1.85" points="520,338.1 525,334.1 526,330.1 531,327.1 536.1,324.5 541.1,326.1 546.1,325.1 551.1,327.1 556.1,323 561.1,319 568.2,319.6 576.2,322 583.2,320 588.2,317 592.2,317 595.2,320"/>
<polyline stroke-width="1.85" points="608.3,308 605.3,313 601.3,317 595.2,320"/>
<polyline stroke-width="1.85" points="595.2,320 599.3,327.1 604.3,333.1 612.3,338.1 620.3,341.1 625.3,343.7 629.4,352.1 632.4,360.2 638.4,365.2 638.8,368.2 634.4,374.2 634,384.2 634.4,392.3 634.8,398.3"/>
<polyline stroke-width="1.85" points="634.8,398.3 640.4,399.9 648.4,399.9 652.4,395.3 658.4,393.3"/>
<polyline stroke-width="1.85" points="634.8,398.3 624.3,397.9 620.9,402.3 620.3,410.3 618.3,413.3 610.3,415.3 602.3,415.9 595.2,415.9 589.2,412.3 584.2,411.7 576.2,412.7 568.2,415.3 565.1,419.4 561.1,425.4 556.1,430.4 553.1,432"/>
<polyline stroke-width="1.85" points="486.3,432 492.3,433.6 500.3,433 503.3,436"/>
<polyline stroke-width="1.85" points="503.3,436 504.3,444 507.3,452.1 506.3,460.1 502.3,466.1 496.3,469.1 491.3,470.1 488.3,475.1 486.3,482.2 484.3,490.2 481.3,497.2 474.2,500.2"/>
<polyline stroke-width="1.85" points="475,500 468.8,500 463.6,502.4 459.7,504.3 457.8,507.5 459.1,511.4 462.3,515.3 464.9,519.2 463.6,521.8 459.1,521.8 457.1,524.4 457.8,527.6 454.5,530.8 451.3,533.7 448.1,534.1 443.5,531.5 439.7,529.5 436.2,530.2"/>
<polyline stroke-width="1.85" points="448.1,534.1 450,538.6 452,545.1"/>
<polyline stroke-width="1.75" points="398.9,486.2 406.7,490.7 415.7,495.2 423.5,499.1 428,501.7 430,506.2 433.8,511.4 436.2,515.3 436.2,530.2"/>
<polyline stroke-width="1.75" points="436.2,522.4 432.5,521.8 428,519.8 424.8,521.1 422.2,522.4 415.7,521.8 413.1,524.4 412.9,527 414.4,530.8 417.7,534.1 422.2,536.7 426.1,540.6 427.4,545.1"/>
<polyline stroke-width="1.75" points="436.2,522.4 433.8,525.7 429.3,528.3 426.1,530.2 426.7,534.1 431.9,536 431.9,545.1"/>
<polyline stroke-width="1.75" points="658.4,487.2 652.4,485.2 644.4,481.2 636.4,477.1 630.4,474.1 627.3,469.1 628.3,466.1 633.4,463.1 634.8,459.1 632.4,454.5 629.4,453.7 626.3,458.1 620.3,461.1 613.3,465.1 609.3,469.1 611.9,473.1 611.9,480.2 609.3,487.2 607.3,494.2 608.3,501.2 611.3,505.8 616.3,508.2 620.3,514.3 625.3,521.3 628.3,527.3 630.4,534.3 632.4,538.3 636.4,541.4 640.4,544.4"/>
<polyline stroke-width="1.75" points="658,487.2 658,496.2"/>
<polyline stroke-width="1.85" points="503.1,436.9 512.5,436.9 522.5,436.9 527.5,435.6 531.2,432.5 538.8,432.5 541.2,435.6 545,435.6 550,434 553.5,432"/>
<polyline stroke-width="1.85" points="385.6,225 387.5,228.8 393.8,231.9 400,235 405,240 408.1,245 415,251.2 422.5,253.1 430,255.6 436.2,258.8 438.1,260.6"/>
<polyline stroke-width="2.2" points="338.8,313.8 345,316.2 350.6,318.1 353.1,321.9 357.5,323.1 361.2,323.8 365,327.5 370,332.5 375,335.6 378.8,340.6 381.2,345 381.9,348.8 386.2,351.9 392.5,355"/>
</g>
<rect x="104" y="66" width="555" height="480" fill="none" stroke="#000" stroke-width="2" shape-rendering="crispEdges"/>
<g stroke="#000" stroke-width="1" shape-rendering="crispEdges">
<line x1="100" y1="66.5" x2="104" y2="66.5"/>
<line x1="100" y1="106.5" x2="104" y2="106.5"/>
<line x1="100" y1="146.5" x2="104" y2="146.5"/>
<line x1="100" y1="186.5" x2="104" y2="186.5"/>
<line x1="100" y1="226.5" x2="104" y2="226.5"/>
<line x1="100" y1="266.5" x2="104" y2="266.5"/>
<line x1="100" y1="306.5" x2="104" y2="306.5"/>
<line x1="100" y1="346.5" x2="104" y2="346.5"/>
<line x1="100" y1="386.5" x2="104" y2="386.5"/>
<line x1="100" y1="426.5" x2="104" y2="426.5"/>
<line x1="100" y1="466.5" x2="104" y2="466.5"/>
<line x1="100" y1="506.5" x2="104" y2="506.5"/>
<line x1="100" y1="546.5" x2="104" y2="546.5"/>
<line x1="104.5" y1="546" x2="104.5" y2="549"/>
<line x1="170.5" y1="546" x2="170.5" y2="549"/>
<line x1="237.5" y1="546" x2="237.5" y2="549"/>
<line x1="304.5" y1="546" x2="304.5" y2="549"/>
<line x1="370.5" y1="546" x2="370.5" y2="549"/>
<line x1="437.5" y1="546" x2="437.5" y2="549"/>
<line x1="504.5" y1="546" x2="504.5" y2="549"/>
<line x1="570.5" y1="546" x2="570.5" y2="549"/>
<line x1="637.5" y1="546" x2="637.5" y2="549"/>
</g>
<path role="img" aria-label="45.5N" d="M72.35,62.40 L69.05,67.87 L74.00,67.87 M72.35,62.40 L72.35,70.60 M79.61,62.40 L76.31,62.40 L75.98,65.91 L76.31,65.52 L77.30,65.13 L78.29,65.13 L79.28,65.52 L79.94,66.30 L80.27,67.48 L80.27,68.26 L79.94,69.43 L79.28,70.21 L78.29,70.60 L77.30,70.60 L76.31,70.21 L75.98,69.82 L75.65,69.04 M82.91,69.82 L82.58,70.21 L82.91,70.60 L83.24,70.21 L82.91,69.82 M89.51,62.40 L86.21,62.40 L85.88,65.91 L86.21,65.52 L87.20,65.13 L88.19,65.13 L89.18,65.52 L89.84,66.30 L90.17,67.48 L90.17,68.26 L89.84,69.43 L89.18,70.21 L88.19,70.60 L87.20,70.60 L86.21,70.21 L85.88,69.82 L85.55,69.04 M92.48,62.40 L92.48,70.60 M92.48,62.40 L97.10,70.60 M97.10,62.40 L97.10,70.60" fill="none" stroke="#000" stroke-width="1.2" stroke-linecap="square" stroke-linejoin="miter" shape-rendering="crispEdges"/>
<path role="img" aria-label="45N" d="M82.25,102.40 L78.95,107.87 L83.90,107.87 M82.25,102.40 L82.25,110.60 M89.51,102.40 L86.21,102.40 L85.88,105.91 L86.21,105.52 L87.20,105.13 L88.19,105.13 L89.18,105.52 L89.84,106.30 L90.17,107.48 L90.17,108.26 L89.84,109.43 L89.18,110.21 L88.19,110.60 L87.20,110.60 L86.21,110.21 L85.88,109.82 L85.55,109.04 M92.48,102.40 L92.48,110.60 M92.48,102.40 L97.10,110.60 M97.10,102.40 L97.10,110.60" fill="none" stroke="#000" stroke-width="1.2" stroke-linecap="square" stroke-linejoin="miter" shape-rendering="crispEdges"/>
<path role="img" aria-label="44.5N" d="M72.35,142.40 L69.05,147.87 L74.00,147.87 M72.35,142.40 L72.35,150.60 M78.95,142.40 L75.65,147.87 L80.60,147.87 M78.95,142.40 L78.95,150.60 M82.91,149.82 L82.58,150.21 L82.91,150.60 L83.24,150.21 L82.91,149.82 M89.51,142.40 L86.21,142.40 L85.88,145.91 L86.21,145.52 L87.20,145.13 L88.19,145.13 L89.18,145.52 L89.84,146.30 L90.17,147.48 L90.17,148.26 L89.84,149.43 L89.18,150.21 L88.19,150.60 L87.20,150.60 L86.21,150.21 L85.88,149.82 L85.55,149.04 M92.48,142.40 L92.48,150.60 M92.48,142.40 L97.10,150.60 M97.10,142.40 L97.10,150.60" fill="none" stroke="#000" stroke-width="1.2" stroke-linecap="square" stroke-linejoin="miter" shape-rendering="crispEdges"/>
<path role="img" aria-label="44N" d="M82.25,182.40 L78.95,187.87 L83.90,187.87 M82.25,182.40 L82.25,190.60 M88.85,182.40 L85.55,187.87 L90.50,187.87 M88.85,182.40 L88.85,190.60 M92.48,182.40 L92.48,190.60 M92.48,182.40 L97.10,190.60 M97.10,182.40 L97.10,190.60" fill="none" stroke="#000" stroke-width="1.2" stroke-linecap="square" stroke-linejoin="miter" shape-rendering="crispEdges"/>
<path role="img" aria-label="43.5N" d="M72.35,222.40 L69.05,227.87 L74.00,227.87 M72.35,222.40 L72.35,230.60 M76.31,222.40 L79.94,222.40 L77.96,225.52 L78.95,225.52 L79.61,225.91 L79.94,226.30 L80.27,227.48 L80.27,228.26 L79.94,229.43 L79.28,230.21 L78.29,230.60 L77.30,230.60 L76.31,230.21 L75.98,229.82 L75.65,229.04 M82.91,229.82 L82.58,230.21 L82.91,230.60 L83.24,230.21 L82.91,229.82 M89.51,222.40 L86.21,222.40 L85.88,225.91 L86.21,225.52 L87.20,225.13 L88.19,225.13 L89.18,225.52 L89.84,226.30 L90.17,227.48 L90.17,228.26 L89.84,229.43 L89.18,230.21 L88.19,230.60 L87.20,230.60 L86.21,230.21 L85.88,229.82 L85.55,229.04 M92.48,222.40 L92.48,230.60 M92.48,222.40 L97.10,230.60 M97.10,222.40 L97.10,230.60" fill="none" stroke="#000" stroke-width="1.2" stroke-linecap="square" stroke-linejoin="miter" shape-rendering="crispEdges"/>
<path role="img" aria-label="43N" d="M82.25,262.40 L78.95,267.87 L83.90,267.87 M82.25,262.40 L82.25,270.60 M86.21,262.40 L89.84,262.40 L87.86,265.52 L88.85,265.52 L89.51,265.91 L89.84,266.30 L90.17,267.48 L90.17,268.26 L89.84,269.43 L89.18,270.21 L88.19,270.60 L87.20,270.60 L86.21,270.21 L85.88,269.82 L85.55,269.04 M92.48,262.40 L92.48,270.60 M92.48,262.40 L97.10,270.60 M97.10,262.40 L97.10,270.60" fill="none" stroke="#000" stroke-width="1.2" stroke-linecap="square" stroke-linejoin="miter" shape-rendering="crispEdges"/>
<path role="img" aria-label="42.5N" d="M72.35,302.40 L69.05,307.87 L74.00,307.87 M72.35,302.40 L72.35,310.60 M75.98,304.35 L75.98,303.96 L76.31,303.18 L76.64,302.79 L77.30,302.40 L78.62,302.40 L79.28,302.79 L79.61,303.18 L79.94,303.96 L79.94,304.74 L79.61,305.52 L78.95,306.70 L75.65,310.60 L80.27,310.60 M82.91,309.82 L82.58,310.21 L82.91,310.60 L83.24,310.21 L82.91,309.82 M89.51,302.40 L86.21,302.40 L85.88,305.91 L86.21,305.52 L87.20,305.13 L88.19,305.13 L89.18,305.52 L89.84,306.30 L90.17,307.48 L90.17,308.26 L89.84,309.43 L89.18,310.21 L88.19,310.60 L87.20,310.60 L86.21,310.21 L85.88,309.82 L85.55,309.04 M92.48,302.40 L92.48,310.60 M92.48,302.40 L97.10,310.60 M97.10,302.40 L97.10,310.60" fill="none" stroke="#000" stroke-width="1.2" stroke-linecap="square" stroke-linejoin="miter" shape-rendering="crispEdges"/>
<path role="img" aria-label="42N" d="M82.25,342.40 L78.95,347.87 L83.90,347.87 M82.25,342.40 L82.25,350.60 M85.88,344.35 L85.88,343.96 L86.21,343.18 L86.54,342.79 L87.20,342.40 L88.52,342.40 L89.18,342.79 L89.51,343.18 L89.84,343.96 L89.84,344.74 L89.51,345.52 L88.85,346.70 L85.55,350.60 L90.17,350.60 M92.48,342.40 L92.48,350.60 M92.48,342.40 L97.10,350.60 M97.10,342.40 L97.10,350.60" fill="none" stroke="#000" stroke-width="1.2" stroke-linecap="square" stroke-linejoin="miter" shape-rendering="crispEdges"/>
<path role="img" aria-label="41.5N" d="M72.35,382.40 L69.05,387.87 L74.00,387.87 M72.35,382.40 L72.35,390.60 M76.64,383.96 L77.30,383.57 L78.29,382.40 L78.29,390.60 M82.91,389.82 L82.58,390.21 L82.91,390.60 L83.24,390.21 L82.91,389.82 M89.51,382.40 L86.21,382.40 L85.88,385.91 L86.21,385.52 L87.20,385.13 L88.19,385.13 L89.18,385.52 L89.84,386.30 L90.17,387.48 L90.17,388.26 L89.84,389.43 L89.18,390.21 L88.19,390.60 L87.20,390.60 L86.21,390.21 L85.88,389.82 L85.55,389.04 M92.48,382.40 L92.48,390.60 M92.48,382.40 L97.10,390.60 M97.10,382.40 L97.10,390.60" fill="none" stroke="#000" stroke-width="1.2" stroke-linecap="square" stroke-linejoin="miter" shape-rendering="crispEdges"/>
<path role="img" aria-label="41N" d="M82.25,422.40 L78.95,427.87 L83.90,427.87 M82.25,422.40 L82.25,430.60 M86.54,423.96 L87.20,423.57 L88.19,422.40 L88.19,430.60 M92.48,422.40 L92.48,430.60 M92.48,422.40 L97.10,430.60 M97.10,422.40 L97.10,430.60" fill="none" stroke="#000" stroke-width="1.2" stroke-linecap="square" stroke-linejoin="miter" shape-rendering="crispEdges"/>
<path role="img" aria-label="40.5N" d="M72.35,462.40 L69.05,467.87 L74.00,467.87 M72.35,462.40 L72.35,470.60 M77.63,462.40 L76.64,462.79 L75.98,463.96 L75.65,465.91 L75.65,467.09 L75.98,469.04 L76.64,470.21 L77.63,470.60 L78.29,470.60 L79.28,470.21 L79.94,469.04 L80.27,467.09 L80.27,465.91 L79.94,463.96 L79.28,462.79 L78.29,462.40 L77.63,462.40 M82.91,469.82 L82.58,470.21 L82.91,470.60 L83.24,470.21 L82.91,469.82 M89.51,462.40 L86.21,462.40 L85.88,465.91 L86.21,465.52 L87.20,465.13 L88.19,465.13 L89.18,465.52 L89.84,466.30 L90.17,467.48 L90.17,468.26 L89.84,469.43 L89.18,470.21 L88.19,470.60 L87.20,470.60 L86.21,470.21 L85.88,469.82 L85.55,469.04 M92.48,462.40 L92.48,470.60 M92.48,462.40 L97.10,470.60 M97.10,462.40 L97.10,470.60" fill="none" stroke="#000" stroke-width="1.2" stroke-linecap="square" stroke-linejoin="miter" shape-rendering="crispEdges"/>
<path role="img" aria-label="40N" d="M82.25,502.40 L78.95,507.87 L83.90,507.87 M82.25,502.40 L82.25,510.60 M87.53,502.40 L86.54,502.79 L85.88,503.96 L85.55,505.91 L85.55,507.09 L85.88,509.04 L86.54,510.21 L87.53,510.60 L88.19,510.60 L89.18,510.21 L89.84,509.04 L90.17,507.09 L90.17,505.91 L89.84,503.96 L89.18,502.79 L88.19,502.40 L87.53,502.40 M92.48,502.40 L92.48,510.60 M92.48,502.40 L97.10,510.60 M97.10,502.40 L97.10,510.60" fill="none" stroke="#000" stroke-width="1.2" stroke-linecap="square" stroke-linejoin="miter" shape-rendering="crispEdges"/>
<path role="img" aria-label="39.5N" d="M69.71,542.40 L73.34,542.40 L71.36,545.52 L72.35,545.52 L73.01,545.91 L73.34,546.30 L73.67,547.48 L73.67,548.26 L73.34,549.43 L72.68,550.21 L71.69,550.60 L70.70,550.60 L69.71,550.21 L69.38,549.82 L69.05,549.04 M79.94,545.13 L79.61,546.30 L78.95,547.09 L77.96,547.48 L77.63,547.48 L76.64,547.09 L75.98,546.30 L75.65,545.13 L75.65,544.74 L75.98,543.57 L76.64,542.79 L77.63,542.40 L77.96,542.40 L78.95,542.79 L79.61,543.57 L79.94,545.13 L79.94,547.09 L79.61,549.04 L78.95,550.21 L77.96,550.60 L77.30,550.60 L76.31,550.21 L75.98,549.43 M82.91,549.82 L82.58,550.21 L82.91,550.60 L83.24,550.21 L82.91,549.82 M89.51,542.40 L86.21,542.40 L85.88,545.91 L86.21,545.52 L87.20,545.13 L88.19,545.13 L89.18,545.52 L89.84,546.30 L90.17,547.48 L90.17,548.26 L89.84,549.43 L89.18,550.21 L88.19,550.60 L87.20,550.60 L86.21,550.21 L85.88,549.82 L85.55,549.04 M92.48,542.40 L92.48,550.60 M92.48,542.40 L97.10,550.60 M97.10,542.40 L97.10,550.60" fill="none" stroke="#000" stroke-width="1.2" stroke-linecap="square" stroke-linejoin="miter" shape-rendering="crispEdges"/>
<path role="img" aria-label="15E" d="M96.80,553.47 L97.42,553.10 L98.34,552.00 L98.34,559.70 M105.78,552.00 L102.69,552.00 L102.38,555.30 L102.69,554.93 L103.62,554.57 L104.55,554.57 L105.48,554.93 L106.09,555.67 L106.41,556.77 L106.41,557.50 L106.09,558.60 L105.48,559.33 L104.55,559.70 L103.62,559.70 L102.69,559.33 L102.38,558.97 L102.06,558.23 M108.58,552.00 L108.58,559.70 M108.58,552.00 L112.61,552.00 M108.58,555.67 L111.06,555.67 M108.58,559.70 L112.61,559.70" fill="none" stroke="#000" stroke-width="1.2" stroke-linecap="square" stroke-linejoin="miter" shape-rendering="crispEdges"/>
<path role="img" aria-label="16E" d="M162.79,553.47 L163.41,553.10 L164.34,552.00 L164.34,559.70 M172.09,553.10 L171.78,552.37 L170.85,552.00 L170.23,552.00 L169.30,552.37 L168.69,553.47 L168.38,555.30 L168.38,557.13 L168.69,558.60 L169.30,559.33 L170.23,559.70 L170.54,559.70 L171.47,559.33 L172.09,558.60 L172.41,557.50 L172.41,557.13 L172.09,556.03 L171.47,555.30 L170.54,554.93 L170.23,554.93 L169.30,555.30 L168.69,556.03 L168.38,557.13 M174.57,552.00 L174.57,559.70 M174.57,552.00 L178.60,552.00 M174.57,555.67 L177.05,555.67 M174.57,559.70 L178.60,559.70" fill="none" stroke="#000" stroke-width="1.2" stroke-linecap="square" stroke-linejoin="miter" shape-rendering="crispEdges"/>
<path role="img" aria-label="17E" d="M229.79,553.47 L230.41,553.10 L231.34,552.00 L231.34,559.70 M239.41,552.00 L236.30,559.70 M235.06,552.00 L239.41,552.00 M241.57,552.00 L241.57,559.70 M241.57,552.00 L245.60,552.00 M241.57,555.67 L244.05,555.67 M241.57,559.70 L245.60,559.70" fill="none" stroke="#000" stroke-width="1.2" stroke-linecap="square" stroke-linejoin="miter" shape-rendering="crispEdges"/>
<path role="img" aria-label="18E" d="M296.80,553.47 L297.42,553.10 L298.35,552.00 L298.35,559.70 M303.62,552.00 L302.69,552.37 L302.38,553.10 L302.38,553.83 L302.69,554.57 L303.31,554.93 L304.55,555.30 L305.47,555.67 L306.09,556.40 L306.40,557.13 L306.40,558.23 L306.09,558.97 L305.78,559.33 L304.85,559.70 L303.62,559.70 L302.69,559.33 L302.38,558.97 L302.06,558.23 L302.06,557.13 L302.38,556.40 L303.00,555.67 L303.93,555.30 L305.16,554.93 L305.78,554.57 L306.09,553.83 L306.09,553.10 L305.78,552.37 L304.85,552.00 L303.62,552.00 M308.57,552.00 L308.57,559.70 M308.57,552.00 L312.60,552.00 M308.57,555.67 L311.05,555.67 M308.57,559.70 L312.60,559.70" fill="none" stroke="#000" stroke-width="1.2" stroke-linecap="square" stroke-linejoin="miter" shape-rendering="crispEdges"/>
<path role="img" aria-label="19E" d="M362.80,553.47 L363.42,553.10 L364.35,552.00 L364.35,559.70 M372.09,554.57 L371.78,555.67 L371.16,556.40 L370.24,556.77 L369.93,556.77 L369.00,556.40 L368.38,555.67 L368.06,554.57 L368.06,554.20 L368.38,553.10 L369.00,552.37 L369.93,552.00 L370.24,552.00 L371.16,552.37 L371.78,553.10 L372.09,554.57 L372.09,556.40 L371.78,558.23 L371.16,559.33 L370.24,559.70 L369.62,559.70 L368.69,559.33 L368.38,558.60 M374.57,552.00 L374.57,559.70 M374.57,552.00 L378.60,552.00 M374.57,555.67 L377.05,555.67 M374.57,559.70 L378.60,559.70" fill="none" stroke="#000" stroke-width="1.2" stroke-linecap="square" stroke-linejoin="miter" shape-rendering="crispEdges"/>
<path role="img" aria-label="20E" d="M429.64,553.83 L429.64,553.47 L429.95,552.73 L430.26,552.37 L430.88,552.00 L432.12,552.00 L432.74,552.37 L433.05,552.73 L433.36,553.47 L433.36,554.20 L433.05,554.93 L432.43,556.03 L429.33,559.70 L433.67,559.70 M437.39,552.00 L436.46,552.37 L435.84,553.47 L435.53,555.30 L435.53,556.40 L435.84,558.23 L436.46,559.33 L437.39,559.70 L438.01,559.70 L438.94,559.33 L439.56,558.23 L439.87,556.40 L439.87,555.30 L439.56,553.47 L438.94,552.37 L438.01,552.00 L437.39,552.00 M442.04,552.00 L442.04,559.70 M442.04,552.00 L446.07,552.00 M442.04,555.67 L444.52,555.67 M442.04,559.70 L446.07,559.70" fill="none" stroke="#000" stroke-width="1.2" stroke-linecap="square" stroke-linejoin="miter" shape-rendering="crispEdges"/>
<path role="img" aria-label="21E" d="M496.64,553.83 L496.64,553.47 L496.95,552.73 L497.26,552.37 L497.88,552.00 L499.12,552.00 L499.74,552.37 L500.05,552.73 L500.36,553.47 L500.36,554.20 L500.05,554.93 L499.43,556.03 L496.33,559.70 L500.67,559.70 M503.46,553.47 L504.08,553.10 L505.01,552.00 L505.01,559.70 M509.04,552.00 L509.04,559.70 M509.04,552.00 L513.07,552.00 M509.04,555.67 L511.52,555.67 M509.04,559.70 L513.07,559.70" fill="none" stroke="#000" stroke-width="1.2" stroke-linecap="square" stroke-linejoin="miter" shape-rendering="crispEdges"/>
<path role="img" aria-label="22E" d="M562.64,553.83 L562.64,553.47 L562.95,552.73 L563.26,552.37 L563.88,552.00 L565.12,552.00 L565.74,552.37 L566.05,552.73 L566.36,553.47 L566.36,554.20 L566.05,554.93 L565.43,556.03 L562.33,559.70 L566.67,559.70 M568.84,553.83 L568.84,553.47 L569.15,552.73 L569.46,552.37 L570.08,552.00 L571.32,552.00 L571.94,552.37 L572.25,552.73 L572.56,553.47 L572.56,554.20 L572.25,554.93 L571.63,556.03 L568.53,559.70 L572.87,559.70 M575.04,552.00 L575.04,559.70 M575.04,552.00 L579.07,552.00 M575.04,555.67 L577.52,555.67 M575.04,559.70 L579.07,559.70" fill="none" stroke="#000" stroke-width="1.2" stroke-linecap="square" stroke-linejoin="miter" shape-rendering="crispEdges"/>
<path role="img" aria-label="23E" d="M629.64,553.83 L629.64,553.47 L629.95,552.73 L630.26,552.37 L630.88,552.00 L632.12,552.00 L632.74,552.37 L633.05,552.73 L633.36,553.47 L633.36,554.20 L633.05,554.93 L632.43,556.03 L629.33,559.70 L633.67,559.70 M636.15,552.00 L639.56,552.00 L637.70,554.93 L638.63,554.93 L639.25,555.30 L639.56,555.67 L639.87,556.77 L639.87,557.50 L639.56,558.60 L638.94,559.33 L638.01,559.70 L637.08,559.70 L636.15,559.33 L635.84,558.97 L635.53,558.23 M642.04,552.00 L642.04,559.70 M642.04,552.00 L646.07,552.00 M642.04,555.67 L644.52,555.67 M642.04,559.70 L646.07,559.70" fill="none" stroke="#000" stroke-width="1.2" stroke-linecap="square" stroke-linejoin="miter" shape-rendering="crispEdges"/>
<g shape-rendering="crispEdges">
<polygon fill="#9B1BFF" points="683,116 683,113 690.5,82 698,113 698,116"/>
<rect x="683" y="116" width="15" height="32" fill="#3C3CFF"/>
<rect x="683" y="148" width="15" height="31" fill="#50A5F5"/>
<rect x="683" y="179" width="15" height="32" fill="#96D2FA"/>
<rect x="683" y="211" width="15" height="32" fill="#0F9B0F"/>
<rect x="683" y="243" width="15" height="32" fill="#78F573"/>
<rect x="683" y="275" width="15" height="31" fill="#FFFFFF"/>
<rect x="683" y="306" width="15" height="32" fill="#FFFFFF"/>
<rect x="683" y="338" width="15" height="32" fill="#FFFAC8"/>
<rect x="683" y="370" width="15" height="32" fill="#F5C341"/>
<rect x="683" y="402" width="15" height="32" fill="#FA9641"/>
<rect x="683" y="434" width="15" height="31" fill="#FF0000"/>
<rect x="683" y="465" width="15" height="32" fill="#B40000"/>
<polygon fill="#780000" points="683,497 683,499 690.5,529 698,499 698,497"/>
<polyline fill="none" stroke="#000" stroke-width="1" points="690,82 683.5,113 683.5,499 690,529"/>
<line x1="683" y1="148.5" x2="698" y2="148.5" stroke="#000" stroke-width="1"/>
<line x1="683" y1="179.5" x2="698" y2="179.5" stroke="#000" stroke-width="1"/>
<line x1="683" y1="211.5" x2="698" y2="211.5" stroke="#000" stroke-width="1"/>
<line x1="683" y1="243.5" x2="698" y2="243.5" stroke="#000" stroke-width="1"/>
<line x1="683" y1="275.5" x2="698" y2="275.5" stroke="#000" stroke-width="1"/>
<line x1="683" y1="306.5" x2="698" y2="306.5" stroke="#000" stroke-width="1"/>
<line x1="683" y1="338.5" x2="698" y2="338.5" stroke="#000" stroke-width="1"/>
<line x1="683" y1="370.5" x2="698" y2="370.5" stroke="#000" stroke-width="1"/>
<line x1="683" y1="402.5" x2="698" y2="402.5" stroke="#000" stroke-width="1"/>
<line x1="683" y1="434.5" x2="698" y2="434.5" stroke="#000" stroke-width="1"/>
<line x1="683" y1="465.5" x2="698" y2="465.5" stroke="#000" stroke-width="1"/>
<line x1="683" y1="497.5" x2="698" y2="497.5" stroke="#000" stroke-width="1"/>
</g>
<path role="img" aria-label="15" d="M703.00,113.24 L703.78,112.83 L704.95,111.60 L704.95,120.20 M714.31,111.60 L710.41,111.60 L710.02,115.29 L710.41,114.88 L711.58,114.47 L712.75,114.47 L713.92,114.88 L714.70,115.70 L715.09,116.92 L715.09,117.74 L714.70,118.97 L713.92,119.79 L712.75,120.20 L711.58,120.20 L710.41,119.79 L710.02,119.38 L709.63,118.56" fill="none" stroke="#000" stroke-width="1.25" stroke-linecap="square" stroke-linejoin="miter" shape-rendering="crispEdges"/>
<path role="img" aria-label="10" d="M703.00,145.01 L703.78,144.60 L704.95,143.37 L704.95,151.97 M711.97,143.37 L710.80,143.78 L710.02,145.01 L709.63,147.06 L709.63,148.28 L710.02,150.33 L710.80,151.56 L711.97,151.97 L712.75,151.97 L713.92,151.56 L714.70,150.33 L715.09,148.28 L715.09,147.06 L714.70,145.01 L713.92,143.78 L712.75,143.37 L711.97,143.37" fill="none" stroke="#000" stroke-width="1.25" stroke-linecap="square" stroke-linejoin="miter" shape-rendering="crispEdges"/>
<path role="img" aria-label="5" d="M707.68,175.14 L703.78,175.14 L703.39,178.83 L703.78,178.42 L704.95,178.01 L706.12,178.01 L707.29,178.42 L708.07,179.24 L708.46,180.46 L708.46,181.28 L708.07,182.51 L707.29,183.33 L706.12,183.74 L704.95,183.74 L703.78,183.33 L703.39,182.92 L703.00,182.10" fill="none" stroke="#000" stroke-width="1.25" stroke-linecap="square" stroke-linejoin="miter" shape-rendering="crispEdges"/>
<path role="img" aria-label="2" d="M703.39,208.96 L703.39,208.55 L703.78,207.73 L704.17,207.32 L704.95,206.91 L706.51,206.91 L707.29,207.32 L707.68,207.73 L708.07,208.55 L708.07,209.37 L707.68,210.19 L706.90,211.41 L703.00,215.51 L708.46,215.51" fill="none" stroke="#000" stroke-width="1.25" stroke-linecap="square" stroke-linejoin="miter" shape-rendering="crispEdges"/>
<path role="img" aria-label="1" d="M703.00,240.32 L703.78,239.91 L704.95,238.68 L704.95,247.28" fill="none" stroke="#000" stroke-width="1.25" stroke-linecap="square" stroke-linejoin="miter" shape-rendering="crispEdges"/>
<path role="img" aria-label="0.3" d="M705.34,270.45 L704.17,270.86 L703.39,272.09 L703.00,274.14 L703.00,275.36 L703.39,277.41 L704.17,278.64 L705.34,279.05 L706.12,279.05 L707.29,278.64 L708.07,277.41 L708.46,275.36 L708.46,274.14 L708.07,272.09 L707.29,270.86 L706.12,270.45 L705.34,270.45 M711.58,278.23 L711.19,278.64 L711.58,279.05 L711.97,278.64 L711.58,278.23 M715.48,270.45 L719.77,270.45 L717.43,273.73 L718.60,273.73 L719.38,274.14 L719.77,274.55 L720.16,275.77 L720.16,276.59 L719.77,277.82 L718.99,278.64 L717.82,279.05 L716.65,279.05 L715.48,278.64 L715.09,278.23 L714.70,277.41" fill="none" stroke="#000" stroke-width="1.25" stroke-linecap="square" stroke-linejoin="miter" shape-rendering="crispEdges"/>
<path role="img" aria-label="0" d="M705.34,302.22 L704.17,302.63 L703.39,303.86 L703.00,305.91 L703.00,307.13 L703.39,309.18 L704.17,310.41 L705.34,310.82 L706.12,310.82 L707.29,310.41 L708.07,309.18 L708.46,307.13 L708.46,305.91 L708.07,303.86 L707.29,302.63 L706.12,302.22 L705.34,302.22" fill="none" stroke="#000" stroke-width="1.25" stroke-linecap="square" stroke-linejoin="miter" shape-rendering="crispEdges"/>
<path role="img" aria-label="-0.3" d="M702.30,338.90 L709.32,338.90 M714.39,333.99 L713.22,334.40 L712.44,335.63 L712.05,337.68 L712.05,338.90 L712.44,340.95 L713.22,342.18 L714.39,342.59 L715.17,342.59 L716.34,342.18 L717.12,340.95 L717.51,338.90 L717.51,337.68 L717.12,335.63 L716.34,334.40 L715.17,333.99 L714.39,333.99 M720.63,341.77 L720.24,342.18 L720.63,342.59 L721.02,342.18 L720.63,341.77 M724.53,333.99 L728.82,333.99 L726.48,337.27 L727.65,337.27 L728.43,337.68 L728.82,338.09 L729.21,339.31 L729.21,340.13 L728.82,341.36 L728.04,342.18 L726.87,342.59 L725.70,342.59 L724.53,342.18 L724.14,341.77 L723.75,340.95" fill="none" stroke="#000" stroke-width="1.25" stroke-linecap="square" stroke-linejoin="miter" shape-rendering="crispEdges"/>
<path role="img" aria-label="-1" d="M702.30,370.67 L709.32,370.67 M713.22,367.40 L714.00,366.99 L715.17,365.76 L715.17,374.36" fill="none" stroke="#000" stroke-width="1.25" stroke-linecap="square" stroke-linejoin="miter" shape-rendering="crispEdges"/>
<path role="img" aria-label="-2" d="M702.30,402.44 L709.32,402.44 M712.44,399.58 L712.44,399.17 L712.83,398.35 L713.22,397.94 L714.00,397.53 L715.56,397.53 L716.34,397.94 L716.73,398.35 L717.12,399.17 L717.12,399.99 L716.73,400.81 L715.95,402.03 L712.05,406.13 L717.51,406.13" fill="none" stroke="#000" stroke-width="1.25" stroke-linecap="square" stroke-linejoin="miter" shape-rendering="crispEdges"/>
<path role="img" aria-label="-5" d="M702.30,434.21 L709.32,434.21 M716.73,429.30 L712.83,429.30 L712.44,432.99 L712.83,432.58 L714.00,432.17 L715.17,432.17 L716.34,432.58 L717.12,433.40 L717.51,434.62 L717.51,435.44 L717.12,436.67 L716.34,437.49 L715.17,437.90 L714.00,437.90 L712.83,437.49 L712.44,437.08 L712.05,436.26" fill="none" stroke="#000" stroke-width="1.25" stroke-linecap="square" stroke-linejoin="miter" shape-rendering="crispEdges"/>
<path role="img" aria-label="-10" d="M702.30,465.98 L709.32,465.98 M713.22,462.71 L714.00,462.30 L715.17,461.07 L715.17,469.67 M722.19,461.07 L721.02,461.48 L720.24,462.71 L719.85,464.76 L719.85,465.98 L720.24,468.03 L721.02,469.26 L722.19,469.67 L722.97,469.67 L724.14,469.26 L724.92,468.03 L725.31,465.98 L725.31,464.76 L724.92,462.71 L724.14,461.48 L722.97,461.07 L722.19,461.07" fill="none" stroke="#000" stroke-width="1.25" stroke-linecap="square" stroke-linejoin="miter" shape-rendering="crispEdges"/>
<path role="img" aria-label="-15" d="M702.30,497.75 L709.32,497.75 M713.22,494.48 L714.00,494.07 L715.17,492.84 L715.17,501.44 M724.53,492.84 L720.63,492.84 L720.24,496.53 L720.63,496.12 L721.80,495.71 L722.97,495.71 L724.14,496.12 L724.92,496.94 L725.31,498.16 L725.31,498.98 L724.92,500.21 L724.14,501.03 L722.97,501.44 L721.80,501.44 L720.63,501.03 L720.24,500.62 L719.85,499.80" fill="none" stroke="#000" stroke-width="1.25" stroke-linecap="square" stroke-linejoin="miter" shape-rendering="crispEdges"/>
<path role="img" aria-label="wrf-nmmE_v3.9.1-e3km" d="M35.76,13.97 L37.75,20.70 M39.75,13.97 L37.75,20.70 M39.75,13.97 L41.75,20.70 M43.75,13.97 L41.75,20.70 M47.80,13.97 L47.80,20.70 M47.80,16.85 L48.30,15.41 L49.30,14.45 L50.30,13.97 L51.80,13.97 M57.70,10.60 L56.70,10.60 L55.70,11.08 L55.20,12.52 L55.20,20.70 M53.70,13.97 L57.20,13.97 M61.30,16.37 L70.29,16.37 M75.01,13.97 L75.01,20.70 M75.01,15.89 L76.51,14.45 L77.51,13.97 L79.01,13.97 L80.00,14.45 L80.50,15.89 L80.50,20.70 M85.28,13.97 L85.28,20.70 M85.28,15.89 L86.78,14.45 L87.78,13.97 L89.28,13.97 L90.28,14.45 L90.78,15.89 L90.78,20.70 M90.78,15.89 L92.28,14.45 L93.28,13.97 L94.78,13.97 L95.77,14.45 L96.27,15.89 L96.27,20.70 M101.23,13.97 L101.23,20.70 M101.23,15.89 L102.73,14.45 L103.73,13.97 L105.23,13.97 L106.22,14.45 L106.72,15.89 L106.72,20.70 M106.72,15.89 L108.22,14.45 L109.22,13.97 L110.72,13.97 L111.72,14.45 L112.22,15.89 L112.22,20.70 M117.00,10.60 L117.00,20.70 M117.00,10.60 L123.49,10.60 M117.00,15.41 L121.00,15.41 M117.00,20.70 L123.49,20.70 M125.05,23.59 L133.05,23.59 M134.55,13.97 L137.55,20.70 M140.55,13.97 L137.55,20.70 M144.62,10.60 L150.12,10.60 L147.12,14.45 L148.62,14.45 L149.62,14.93 L150.12,15.41 L150.62,16.85 L150.62,17.81 L150.12,19.26 L149.12,20.22 L147.62,20.70 L146.12,20.70 L144.62,20.22 L144.12,19.74 L143.62,18.78 M155.09,19.74 L154.59,20.22 L155.09,20.70 L155.59,20.22 L155.09,19.74 M166.06,13.97 L165.56,15.41 L164.56,16.37 L163.07,16.85 L162.57,16.85 L161.07,16.37 L160.07,15.41 L159.57,13.97 L159.57,13.49 L160.07,12.04 L161.07,11.08 L162.57,10.60 L163.07,10.60 L164.56,11.08 L165.56,12.04 L166.06,13.97 L166.06,16.37 L165.56,18.78 L164.56,20.22 L163.07,20.70 L162.07,20.70 L160.57,20.22 L160.07,19.26 M171.04,19.74 L170.54,20.22 L171.04,20.70 L171.54,20.22 L171.04,19.74 M177.01,12.52 L178.01,12.04 L179.51,10.60 L179.51,20.70 M186.74,16.37 L195.73,16.37 M199.93,16.85 L205.93,16.85 L205.93,15.89 L205.43,14.93 L204.93,14.45 L203.93,13.97 L202.43,13.97 L201.43,14.45 L200.43,15.41 L199.93,16.85 L199.93,17.81 L200.43,19.26 L201.43,20.22 L202.43,20.70 L203.93,20.70 L204.93,20.22 L205.93,19.26 M210.53,10.60 L216.03,10.60 L213.03,14.45 L214.53,14.45 L215.53,14.93 L216.03,15.41 L216.53,16.85 L216.53,17.81 L216.03,19.26 L215.03,20.22 L213.53,20.70 L212.03,20.70 L210.53,20.22 L210.03,19.74 L209.53,18.78 M220.61,10.60 L220.61,20.70 M225.61,13.97 L220.61,18.78 M222.61,16.85 L226.11,20.70 M229.86,13.97 L229.86,20.70 M229.86,15.89 L231.36,14.45 L232.36,13.97 L233.85,13.97 L234.85,14.45 L235.35,15.89 L235.35,20.70 M235.35,15.89 L236.85,14.45 L237.85,13.97 L239.35,13.97 L240.35,14.45 L240.85,15.89 L240.85,20.70" fill="none" stroke="#000" stroke-width="1.75" stroke-linecap="square" stroke-linejoin="miter" shape-rendering="crispEdges"/>
<path role="img" aria-label="3h Acc.Snow [cm/3h]" d="M33.22,32.20 L38.72,32.20 L35.72,36.05 L37.22,36.05 L38.22,36.53 L38.72,37.01 L39.22,38.45 L39.22,39.41 L38.72,40.86 L37.72,41.82 L36.22,42.30 L34.72,42.30 L33.22,41.82 L32.72,41.34 L32.22,40.38 M43.34,32.20 L43.34,42.30 M43.34,37.49 L44.84,36.05 L45.84,35.57 L47.34,35.57 L48.34,36.05 L48.84,37.49 L48.84,42.30 M64.43,32.20 L60.43,42.30 M64.43,32.20 L68.42,42.30 M61.93,38.93 L66.93,38.93 M76.99,37.01 L75.99,36.05 L75.00,35.57 L73.50,35.57 L72.50,36.05 L71.50,37.01 L71.00,38.45 L71.00,39.41 L71.50,40.86 L72.50,41.82 L73.50,42.30 L75.00,42.30 L75.99,41.82 L76.99,40.86 M86.56,37.01 L85.56,36.05 L84.56,35.57 L83.06,35.57 L82.07,36.05 L81.07,37.01 L80.57,38.45 L80.57,39.41 L81.07,40.86 L82.07,41.82 L83.06,42.30 L84.56,42.30 L85.56,41.82 L86.56,40.86 M91.01,41.34 L90.51,41.82 L91.01,42.30 L91.51,41.82 L91.01,41.34 M102.48,33.64 L101.48,32.68 L99.98,32.20 L97.98,32.20 L96.48,32.68 L95.48,33.64 L95.48,34.60 L95.98,35.57 L96.48,36.05 L97.48,36.53 L100.48,37.49 L101.48,37.97 L101.98,38.45 L102.48,39.41 L102.48,40.86 L101.48,41.82 L99.98,42.30 L97.98,42.30 L96.48,41.82 L95.48,40.86 M106.60,35.57 L106.60,42.30 M106.60,37.49 L108.10,36.05 L109.10,35.57 L110.60,35.57 L111.60,36.05 L112.10,37.49 L112.10,42.30 M118.70,35.57 L117.70,36.05 L116.70,37.01 L116.20,38.45 L116.20,39.41 L116.70,40.86 L117.70,41.82 L118.70,42.30 L120.20,42.30 L121.20,41.82 L122.20,40.86 L122.70,39.41 L122.70,38.45 L122.20,37.01 L121.20,36.05 L120.20,35.57 L118.70,35.57 M126.35,35.57 L128.35,42.30 M130.34,35.57 L128.35,42.30 M130.34,35.57 L132.34,42.30 M134.34,35.57 L132.34,42.30 M146.92,30.28 L146.92,45.67 M147.42,30.28 L147.42,45.67 M146.92,30.28 L150.42,30.28 M146.92,45.67 L150.42,45.67 M159.92,37.01 L158.92,36.05 L157.92,35.57 L156.42,35.57 L155.43,36.05 L154.43,37.01 L153.93,38.45 L153.93,39.41 L154.43,40.86 L155.43,41.82 L156.42,42.30 L157.92,42.30 L158.92,41.82 L159.92,40.86 M164.19,35.57 L164.19,42.30 M164.19,37.49 L165.69,36.05 L166.68,35.57 L168.18,35.57 L169.18,36.05 L169.68,37.49 L169.68,42.30 M169.68,37.49 L171.18,36.05 L172.18,35.57 L173.68,35.57 L174.68,36.05 L175.18,37.49 L175.18,42.30 M188.00,30.28 L179.01,45.67 M192.17,32.20 L197.67,32.20 L194.67,36.05 L196.17,36.05 L197.17,36.53 L197.67,37.01 L198.17,38.45 L198.17,39.41 L197.67,40.86 L196.67,41.82 L195.17,42.30 L193.67,42.30 L192.17,41.82 L191.67,41.34 L191.17,40.38 M202.29,32.20 L202.29,42.30 M202.29,37.49 L203.78,36.05 L204.78,35.57 L206.28,35.57 L207.28,36.05 L207.78,37.49 L207.78,42.30 M214.80,30.28 L214.80,45.67 M215.30,30.28 L215.30,45.67 M211.81,30.28 L215.30,30.28 M211.81,45.67 L215.30,45.67" fill="none" stroke="#000" stroke-width="1.75" stroke-linecap="square" stroke-linejoin="miter" shape-rendering="crispEdges"/>
<path role="img" aria-label="initialisation: 2021.01.23.  00:00 UTC" d="M433.03,10.50 L433.53,10.98 L434.03,10.50 L433.53,10.02 L433.03,10.50 M433.53,13.87 L433.53,20.60 M437.94,13.87 L437.94,20.60 M437.94,15.79 L439.43,14.35 L440.43,13.87 L441.92,13.87 L442.92,14.35 L443.42,15.79 L443.42,20.60 M447.33,10.50 L447.83,10.98 L448.33,10.50 L447.83,10.02 L447.33,10.50 M447.83,13.87 L447.83,20.60 M452.63,10.50 L452.63,18.68 L453.13,20.12 L454.12,20.60 L455.12,20.60 M451.13,13.87 L454.62,13.87 M457.92,10.50 L458.42,10.98 L458.92,10.50 L458.42,10.02 L457.92,10.50 M458.42,13.87 L458.42,20.60 M468.31,13.87 L468.31,20.60 M468.31,15.31 L467.31,14.35 L466.32,13.87 L464.82,13.87 L463.83,14.35 L462.83,15.31 L462.34,16.75 L462.34,17.71 L462.83,19.16 L463.83,20.12 L464.82,20.60 L466.32,20.60 L467.31,20.12 L468.31,19.16 M472.72,10.50 L472.72,20.60 M476.46,10.50 L476.96,10.98 L477.46,10.50 L476.96,10.02 L476.46,10.50 M476.96,13.87 L476.96,20.60 M486.32,15.31 L485.82,14.35 L484.32,13.87 L482.83,13.87 L481.34,14.35 L480.84,15.31 L481.34,16.27 L482.33,16.75 L484.82,17.23 L485.82,17.71 L486.32,18.68 L486.32,19.16 L485.82,20.12 L484.32,20.60 L482.83,20.60 L481.34,20.12 L480.84,19.16 M495.85,13.87 L495.85,20.60 M495.85,15.31 L494.85,14.35 L493.86,13.87 L492.36,13.87 L491.37,14.35 L490.37,15.31 L489.87,16.75 L489.87,17.71 L490.37,19.16 L491.37,20.12 L492.36,20.60 L493.86,20.60 L494.85,20.12 L495.85,19.16 M500.82,10.50 L500.82,18.68 L501.32,20.12 L502.32,20.60 L503.31,20.60 M499.33,13.87 L502.81,13.87 M506.12,10.50 L506.62,10.98 L507.11,10.50 L506.62,10.02 L506.12,10.50 M506.62,13.87 L506.62,20.60 M513.02,13.87 L512.02,14.35 L511.03,15.31 L510.53,16.75 L510.53,17.71 L511.03,19.16 L512.02,20.12 L513.02,20.60 L514.51,20.60 L515.51,20.12 L516.50,19.16 L517.00,17.71 L517.00,16.75 L516.50,15.31 L515.51,14.35 L514.51,13.87 L513.02,13.87 M521.09,13.87 L521.09,20.60 M521.09,15.79 L522.58,14.35 L523.58,13.87 L525.07,13.87 L526.07,14.35 L526.57,15.79 L526.57,20.60 M531.51,13.87 L531.01,14.35 L531.51,14.83 L532.01,14.35 L531.51,13.87 M531.51,19.64 L531.01,20.12 L531.51,20.60 L532.01,20.12 L531.51,19.64 M544.94,12.90 L544.94,12.42 L545.44,11.46 L545.93,10.98 L546.93,10.50 L548.92,10.50 L549.92,10.98 L550.41,11.46 L550.91,12.42 L550.91,13.39 L550.41,14.35 L549.42,15.79 L544.44,20.60 L551.41,20.60 M558.02,10.50 L556.53,10.98 L555.53,12.42 L555.03,14.83 L555.03,16.27 L555.53,18.68 L556.53,20.12 L558.02,20.60 L559.02,20.60 L560.51,20.12 L561.50,18.68 L562.00,16.27 L562.00,14.83 L561.50,12.42 L560.51,10.98 L559.02,10.50 L558.02,10.50 M566.12,12.90 L566.12,12.42 L566.62,11.46 L567.12,10.98 L568.11,10.50 L570.11,10.50 L571.10,10.98 L571.60,11.46 L572.10,12.42 L572.10,13.39 L571.60,14.35 L570.60,15.79 L565.63,20.60 L572.59,20.60 M577.71,12.42 L578.71,11.94 L580.20,10.50 L580.20,20.60 M587.65,19.64 L587.15,20.12 L587.65,20.60 L588.14,20.12 L587.65,19.64 M595.09,10.50 L593.60,10.98 L592.60,12.42 L592.11,14.83 L592.11,16.27 L592.60,18.68 L593.60,20.12 L595.09,20.60 L596.09,20.60 L597.58,20.12 L598.58,18.68 L599.08,16.27 L599.08,14.83 L598.58,12.42 L597.58,10.98 L596.09,10.50 L595.09,10.50 M604.19,12.42 L605.19,11.94 L606.68,10.50 L606.68,20.60 M614.13,19.64 L613.63,20.12 L614.13,20.60 L614.62,20.12 L614.13,19.64 M619.08,12.90 L619.08,12.42 L619.58,11.46 L620.08,10.98 L621.08,10.50 L623.07,10.50 L624.06,10.98 L624.56,11.46 L625.06,12.42 L625.06,13.39 L624.56,14.35 L623.56,15.79 L618.59,20.60 L625.56,20.60 M630.17,10.50 L635.65,10.50 L632.66,14.35 L634.16,14.35 L635.15,14.83 L635.65,15.31 L636.15,16.75 L636.15,17.71 L635.65,19.16 L634.65,20.12 L633.16,20.60 L631.67,20.60 L630.17,20.12 L629.68,19.64 L629.18,18.68 M640.61,19.64 L640.11,20.12 L640.61,20.60 L641.11,20.12 L640.61,19.64 M665.00,10.50 L663.51,10.98 L662.51,12.42 L662.01,14.83 L662.01,16.27 L662.51,18.68 L663.51,20.12 L665.00,20.60 L666.00,20.60 L667.49,20.12 L668.49,18.68 L668.98,16.27 L668.98,14.83 L668.49,12.42 L667.49,10.98 L666.00,10.50 L665.00,10.50 M675.59,10.50 L674.10,10.98 L673.10,12.42 L672.61,14.83 L672.61,16.27 L673.10,18.68 L674.10,20.12 L675.59,20.60 L676.59,20.60 L678.08,20.12 L679.08,18.68 L679.58,16.27 L679.58,14.83 L679.08,12.42 L678.08,10.98 L676.59,10.50 L675.59,10.50 M684.04,13.87 L683.54,14.35 L684.04,14.83 L684.53,14.35 L684.04,13.87 M684.04,19.64 L683.54,20.12 L684.04,20.60 L684.53,20.12 L684.04,19.64 M691.48,10.50 L689.99,10.98 L688.99,12.42 L688.49,14.83 L688.49,16.27 L688.99,18.68 L689.99,20.12 L691.48,20.60 L692.48,20.60 L693.97,20.12 L694.97,18.68 L695.46,16.27 L695.46,14.83 L694.97,12.42 L693.97,10.98 L692.48,10.50 L691.48,10.50 M702.07,10.50 L700.58,10.98 L699.58,12.42 L699.09,14.83 L699.09,16.27 L699.58,18.68 L700.58,20.12 L702.07,20.60 L703.07,20.60 L704.56,20.12 L705.56,18.68 L706.06,16.27 L706.06,14.83 L705.56,12.42 L704.56,10.98 L703.07,10.50 L702.07,10.50 M718.68,10.50 L718.68,17.71 L719.18,19.16 L720.18,20.12 L721.67,20.60 L722.67,20.60 L724.16,20.12 L725.15,19.16 L725.65,17.71 L725.65,10.50 M732.23,10.50 L732.23,20.60 M728.75,10.50 L735.71,10.50 M745.76,12.90 L745.26,11.94 L744.27,10.98 L743.27,10.50 L741.28,10.50 L740.29,10.98 L739.29,11.94 L738.79,12.90 L738.29,14.35 L738.29,16.75 L738.79,18.20 L739.29,19.16 L740.29,20.12 L741.28,20.60 L743.27,20.60 L744.27,20.12 L745.26,19.16 L745.76,18.20" fill="none" stroke="#000" stroke-width="1.75" stroke-linecap="square" stroke-linejoin="miter" shape-rendering="crispEdges"/>
<path role="img" aria-label="valid(+27h): 2021.JAN.24 03:00 UTC" d="M429.19,35.57 L432.16,42.30 M435.14,35.57 L432.16,42.30 M444.11,35.57 L444.11,42.30 M444.11,37.01 L443.12,36.05 L442.13,35.57 L440.65,35.57 L439.65,36.05 L438.66,37.01 L438.17,38.45 L438.17,39.41 L438.66,40.86 L439.65,41.82 L440.65,42.30 L442.13,42.30 L443.12,41.82 L444.11,40.86 M448.51,32.20 L448.51,42.30 M452.23,32.20 L452.72,32.68 L453.22,32.20 L452.72,31.72 L452.23,32.20 M452.72,35.57 L452.72,42.30 M462.57,32.20 L462.57,42.30 M462.57,37.01 L461.58,36.05 L460.58,35.57 L459.10,35.57 L458.11,36.05 L457.12,37.01 L456.62,38.45 L456.62,39.41 L457.12,40.86 L458.11,41.82 L459.10,42.30 L460.58,42.30 L461.58,41.82 L462.57,40.86 M470.52,30.28 L469.53,31.24 L468.54,32.68 L467.55,34.60 L467.05,37.01 L467.05,38.93 L467.55,41.34 L468.54,43.26 L469.53,44.70 L470.52,45.67 M479.08,33.64 L479.08,42.30 M474.62,37.97 L483.54,37.97 M488.24,34.60 L488.24,34.12 L488.73,33.16 L489.23,32.68 L490.22,32.20 L492.20,32.20 L493.19,32.68 L493.69,33.16 L494.18,34.12 L494.18,35.09 L493.69,36.05 L492.70,37.49 L487.74,42.30 L494.68,42.30 M505.22,32.20 L500.27,42.30 M498.28,32.20 L505.22,32.20 M509.31,32.20 L509.31,42.30 M509.31,37.49 L510.79,36.05 L511.79,35.57 L513.27,35.57 L514.26,36.05 L514.76,37.49 L514.76,42.30 M518.75,30.28 L519.74,31.24 L520.73,32.68 L521.72,34.60 L522.22,37.01 L522.22,38.93 L521.72,41.34 L520.73,43.26 L519.74,44.70 L518.75,45.67 M527.06,35.57 L526.56,36.05 L527.06,36.53 L527.55,36.05 L527.06,35.57 M527.06,41.34 L526.56,41.82 L527.06,42.30 L527.55,41.82 L527.06,41.34 M540.43,34.60 L540.43,34.12 L540.92,33.16 L541.42,32.68 L542.41,32.20 L544.39,32.20 L545.38,32.68 L545.88,33.16 L546.37,34.12 L546.37,35.09 L545.88,36.05 L544.89,37.49 L539.93,42.30 L546.87,42.30 M553.45,32.20 L551.96,32.68 L550.97,34.12 L550.48,36.53 L550.48,37.97 L550.97,40.38 L551.96,41.82 L553.45,42.30 L554.44,42.30 L555.93,41.82 L556.92,40.38 L557.41,37.97 L557.41,36.53 L556.92,34.12 L555.93,32.68 L554.44,32.20 L553.45,32.20 M561.52,34.60 L561.52,34.12 L562.01,33.16 L562.51,32.68 L563.50,32.20 L565.48,32.20 L566.47,32.68 L566.97,33.16 L567.46,34.12 L567.46,35.09 L566.97,36.05 L565.98,37.49 L561.02,42.30 L567.96,42.30 M573.05,34.12 L574.04,33.64 L575.53,32.20 L575.53,42.30 M582.94,41.34 L582.45,41.82 L582.94,42.30 L583.44,41.82 L582.94,41.34 M591.78,32.20 L591.78,39.90 L591.28,41.34 L590.79,41.82 L589.79,42.30 L588.80,42.30 L587.81,41.82 L587.32,41.34 L586.82,39.90 L586.82,38.93 M598.76,32.20 L594.79,42.30 M598.76,32.20 L602.72,42.30 M596.28,38.93 L601.23,38.93 M605.83,32.20 L605.83,42.30 M605.83,32.20 L612.77,42.30 M612.77,32.20 L612.77,42.30 M617.74,41.34 L617.24,41.82 L617.74,42.30 L618.23,41.82 L617.74,41.34 M622.67,34.60 L622.67,34.12 L623.17,33.16 L623.66,32.68 L624.65,32.20 L626.63,32.20 L627.63,32.68 L628.12,33.16 L628.62,34.12 L628.62,35.09 L628.12,36.05 L627.13,37.49 L622.17,42.30 L629.11,42.30 M637.67,32.20 L632.72,38.93 L640.15,38.93 M637.67,32.20 L637.67,42.30 M654.67,32.20 L653.18,32.68 L652.19,34.12 L651.70,36.53 L651.70,37.97 L652.19,40.38 L653.18,41.82 L654.67,42.30 L655.66,42.30 L657.15,41.82 L658.14,40.38 L658.64,37.97 L658.64,36.53 L658.14,34.12 L657.15,32.68 L655.66,32.20 L654.67,32.20 M663.23,32.20 L668.68,32.20 L665.71,36.05 L667.20,36.05 L668.19,36.53 L668.68,37.01 L669.18,38.45 L669.18,39.41 L668.68,40.86 L667.69,41.82 L666.21,42.30 L664.72,42.30 L663.23,41.82 L662.74,41.34 L662.24,40.38 M673.62,35.57 L673.12,36.05 L673.62,36.53 L674.11,36.05 L673.62,35.57 M673.62,41.34 L673.12,41.82 L673.62,42.30 L674.11,41.82 L673.62,41.34 M681.03,32.20 L679.54,32.68 L678.55,34.12 L678.06,36.53 L678.06,37.97 L678.55,40.38 L679.54,41.82 L681.03,42.30 L682.02,42.30 L683.51,41.82 L684.50,40.38 L685.00,37.97 L685.00,36.53 L684.50,34.12 L683.51,32.68 L682.02,32.20 L681.03,32.20 M691.57,32.20 L690.09,32.68 L689.10,34.12 L688.60,36.53 L688.60,37.97 L689.10,40.38 L690.09,41.82 L691.57,42.30 L692.57,42.30 L694.05,41.82 L695.04,40.38 L695.54,37.97 L695.54,36.53 L695.04,34.12 L694.05,32.68 L692.57,32.20 L691.57,32.20 M708.11,32.20 L708.11,39.41 L708.60,40.86 L709.59,41.82 L711.08,42.30 L712.07,42.30 L713.56,41.82 L714.55,40.86 L715.05,39.41 L715.05,32.20 M721.59,32.20 L721.59,42.30 M718.12,32.20 L725.06,32.20 M735.06,34.60 L734.57,33.64 L733.58,32.68 L732.58,32.20 L730.60,32.20 L729.61,32.68 L728.62,33.64 L728.12,34.60 L727.63,36.05 L727.63,38.45 L728.12,39.90 L728.62,40.86 L729.61,41.82 L730.60,42.30 L732.58,42.30 L733.58,41.82 L734.57,40.86 L735.06,39.90" fill="none" stroke="#000" stroke-width="1.75" stroke-linecap="square" stroke-linejoin="miter" shape-rendering="crispEdges"/>
<path role="img" aria-label="GrADS: COLA/IGES" d="M8.62,610.29 L8.35,609.61 L7.80,608.94 L7.26,608.60 L6.16,608.60 L5.62,608.94 L5.07,609.61 L4.80,610.29 L4.53,611.30 L4.53,613.00 L4.80,614.01 L5.07,614.69 L5.62,615.36 L6.16,615.70 L7.26,615.70 L7.80,615.36 L8.35,614.69 L8.62,614.01 L8.62,613.00 M7.26,613.00 L8.62,613.00 M11.05,610.97 L11.05,615.70 M11.05,613.00 L11.32,611.98 L11.86,611.30 L12.41,610.97 L13.23,610.97 M16.43,608.60 L14.25,615.70 M16.43,608.60 L18.61,615.70 M15.06,613.33 L17.79,613.33 M20.57,608.60 L20.57,615.70 M20.57,608.60 L22.48,608.60 L23.30,608.94 L23.84,609.61 L24.11,610.29 L24.39,611.30 L24.39,613.00 L24.11,614.01 L23.84,614.69 L23.30,615.36 L22.48,615.70 L20.57,615.70 M30.47,609.61 L29.92,608.94 L29.10,608.60 L28.01,608.60 L27.19,608.94 L26.65,609.61 L26.65,610.29 L26.92,610.97 L27.19,611.30 L27.74,611.64 L29.37,612.32 L29.92,612.66 L30.19,613.00 L30.47,613.67 L30.47,614.69 L29.92,615.36 L29.10,615.70 L28.01,615.70 L27.19,615.36 L26.65,614.69 M33.10,610.97 L32.83,611.30 L33.10,611.64 L33.38,611.30 L33.10,610.97 M33.10,615.02 L32.83,615.36 L33.10,615.70 L33.38,615.36 L33.10,615.02 M44.70,610.29 L44.43,609.61 L43.88,608.94 L43.34,608.60 L42.25,608.60 L41.70,608.94 L41.15,609.61 L40.88,610.29 L40.61,611.30 L40.61,613.00 L40.88,614.01 L41.15,614.69 L41.70,615.36 L42.25,615.70 L43.34,615.70 L43.88,615.36 L44.43,614.69 L44.70,614.01 M48.63,608.60 L48.08,608.94 L47.54,609.61 L47.26,610.29 L46.99,611.30 L46.99,613.00 L47.26,614.01 L47.54,614.69 L48.08,615.36 L48.63,615.70 L49.72,615.70 L50.27,615.36 L50.81,614.69 L51.08,614.01 L51.36,613.00 L51.36,611.30 L51.08,610.29 L50.81,609.61 L50.27,608.94 L49.72,608.60 L48.63,608.60 M53.86,608.60 L53.86,615.70 M53.86,615.70 L57.13,615.70 M60.39,608.60 L58.21,615.70 M60.39,608.60 L62.58,615.70 M59.03,613.33 L61.76,613.33 M68.91,607.25 L64.00,618.07 M71.00,608.60 L71.00,615.70 M77.45,610.29 L77.17,609.61 L76.63,608.94 L76.08,608.60 L74.99,608.60 L74.45,608.94 L73.90,609.61 L73.63,610.29 L73.35,611.30 L73.35,613.00 L73.63,614.01 L73.90,614.69 L74.45,615.36 L74.99,615.70 L76.08,615.70 L76.63,615.36 L77.17,614.69 L77.45,614.01 L77.45,613.00 M76.08,613.00 L77.45,613.00 M79.96,608.60 L79.96,615.70 M79.96,608.60 L83.51,608.60 M79.96,611.98 L82.15,611.98 M79.96,615.70 L83.51,615.70 M89.29,609.61 L88.74,608.94 L87.92,608.60 L86.83,608.60 L86.01,608.94 L85.47,609.61 L85.47,610.29 L85.74,610.97 L86.01,611.30 L86.56,611.64 L88.20,612.32 L88.74,612.66 L89.01,613.00 L89.29,613.67 L89.29,614.69 L88.74,615.36 L87.92,615.70 L86.83,615.70 L86.01,615.36 L85.47,614.69" fill="none" stroke="#000" stroke-width="1.55" stroke-linecap="square" stroke-linejoin="miter" shape-rendering="crispEdges"/>
<path role="img" aria-label="2021-01-23-09:56" d="M684.80,610.29 L684.80,609.95 L685.05,609.28 L685.31,608.94 L685.82,608.60 L686.84,608.60 L687.34,608.94 L687.60,609.28 L687.85,609.95 L687.85,610.63 L687.60,611.30 L687.09,612.32 L684.54,615.70 L688.11,615.70 M691.86,608.60 L691.10,608.94 L690.59,609.95 L690.33,611.64 L690.33,612.66 L690.59,614.35 L691.10,615.36 L691.86,615.70 L692.37,615.70 L693.13,615.36 L693.64,614.35 L693.90,612.66 L693.90,611.64 L693.64,609.95 L693.13,608.94 L692.37,608.60 L691.86,608.60 M696.38,610.29 L696.38,609.95 L696.63,609.28 L696.88,608.94 L697.39,608.60 L698.41,608.60 L698.92,608.94 L699.18,609.28 L699.43,609.95 L699.43,610.63 L699.18,611.30 L698.67,612.32 L696.12,615.70 L699.69,615.70 M702.67,609.95 L703.18,609.61 L703.95,608.60 L703.95,615.70 M709.08,612.66 L711.62,612.66 M716.75,608.60 L715.99,608.94 L715.48,609.95 L715.22,611.64 L715.22,612.66 L715.48,614.35 L715.99,615.36 L716.75,615.70 L717.26,615.70 L718.03,615.36 L718.54,614.35 L718.79,612.66 L718.79,611.64 L718.54,609.95 L718.03,608.94 L717.26,608.60 L716.75,608.60 M721.78,609.95 L722.29,609.61 L723.05,608.60 L723.05,615.70 M728.18,612.66 L730.73,612.66 M734.58,610.29 L734.58,609.95 L734.84,609.28 L735.09,608.94 L735.60,608.60 L736.62,608.60 L737.13,608.94 L737.38,609.28 L737.64,609.95 L737.64,610.63 L737.38,611.30 L736.87,612.32 L734.33,615.70 L737.89,615.70 M740.63,608.60 L743.43,608.60 L741.90,611.30 L742.66,611.30 L743.17,611.64 L743.43,611.98 L743.68,613.00 L743.68,613.67 L743.43,614.69 L742.92,615.36 L742.15,615.70 L741.39,615.70 L740.63,615.36 L740.37,615.02 L740.12,614.35 M747.28,612.66 L749.83,612.66 M754.96,608.60 L754.19,608.94 L753.68,609.95 L753.43,611.64 L753.43,612.66 L753.68,614.35 L754.19,615.36 L754.96,615.70 L755.47,615.70 L756.23,615.36 L756.74,614.35 L757.00,612.66 L757.00,611.64 L756.74,609.95 L756.23,608.94 L755.47,608.60 L754.96,608.60 M762.53,610.97 L762.28,611.98 L761.77,612.66 L761.00,613.00 L760.75,613.00 L759.98,612.66 L759.47,611.98 L759.22,610.97 L759.22,610.63 L759.47,609.61 L759.98,608.94 L760.75,608.60 L761.00,608.60 L761.77,608.94 L762.28,609.61 L762.53,610.97 L762.53,612.66 L762.28,614.35 L761.77,615.36 L761.00,615.70 L760.49,615.70 L759.73,615.36 L759.47,614.69 M765.34,610.97 L765.09,611.30 L765.34,611.64 L765.60,611.30 L765.34,610.97 M765.34,615.02 L765.09,615.36 L765.34,615.70 L765.60,615.36 L765.34,615.02 M770.96,608.60 L768.41,608.60 L768.16,611.64 L768.41,611.30 L769.18,610.97 L769.94,610.97 L770.70,611.30 L771.21,611.98 L771.47,613.00 L771.47,613.67 L771.21,614.69 L770.70,615.36 L769.94,615.70 L769.18,615.70 L768.41,615.36 L768.16,615.02 L767.90,614.35 M777.00,609.61 L776.75,608.94 L775.98,608.60 L775.47,608.60 L774.71,608.94 L774.20,609.95 L773.95,611.64 L773.95,613.33 L774.20,614.69 L774.71,615.36 L775.47,615.70 L775.73,615.70 L776.49,615.36 L777.00,614.69 L777.26,613.67 L777.26,613.33 L777.00,612.32 L776.49,611.64 L775.73,611.30 L775.47,611.30 L774.71,611.64 L774.20,612.32 L773.95,613.33" fill="none" stroke="#000" stroke-width="1.55" stroke-linecap="square" stroke-linejoin="miter" shape-rendering="crispEdges"/>
</svg></body></html>
